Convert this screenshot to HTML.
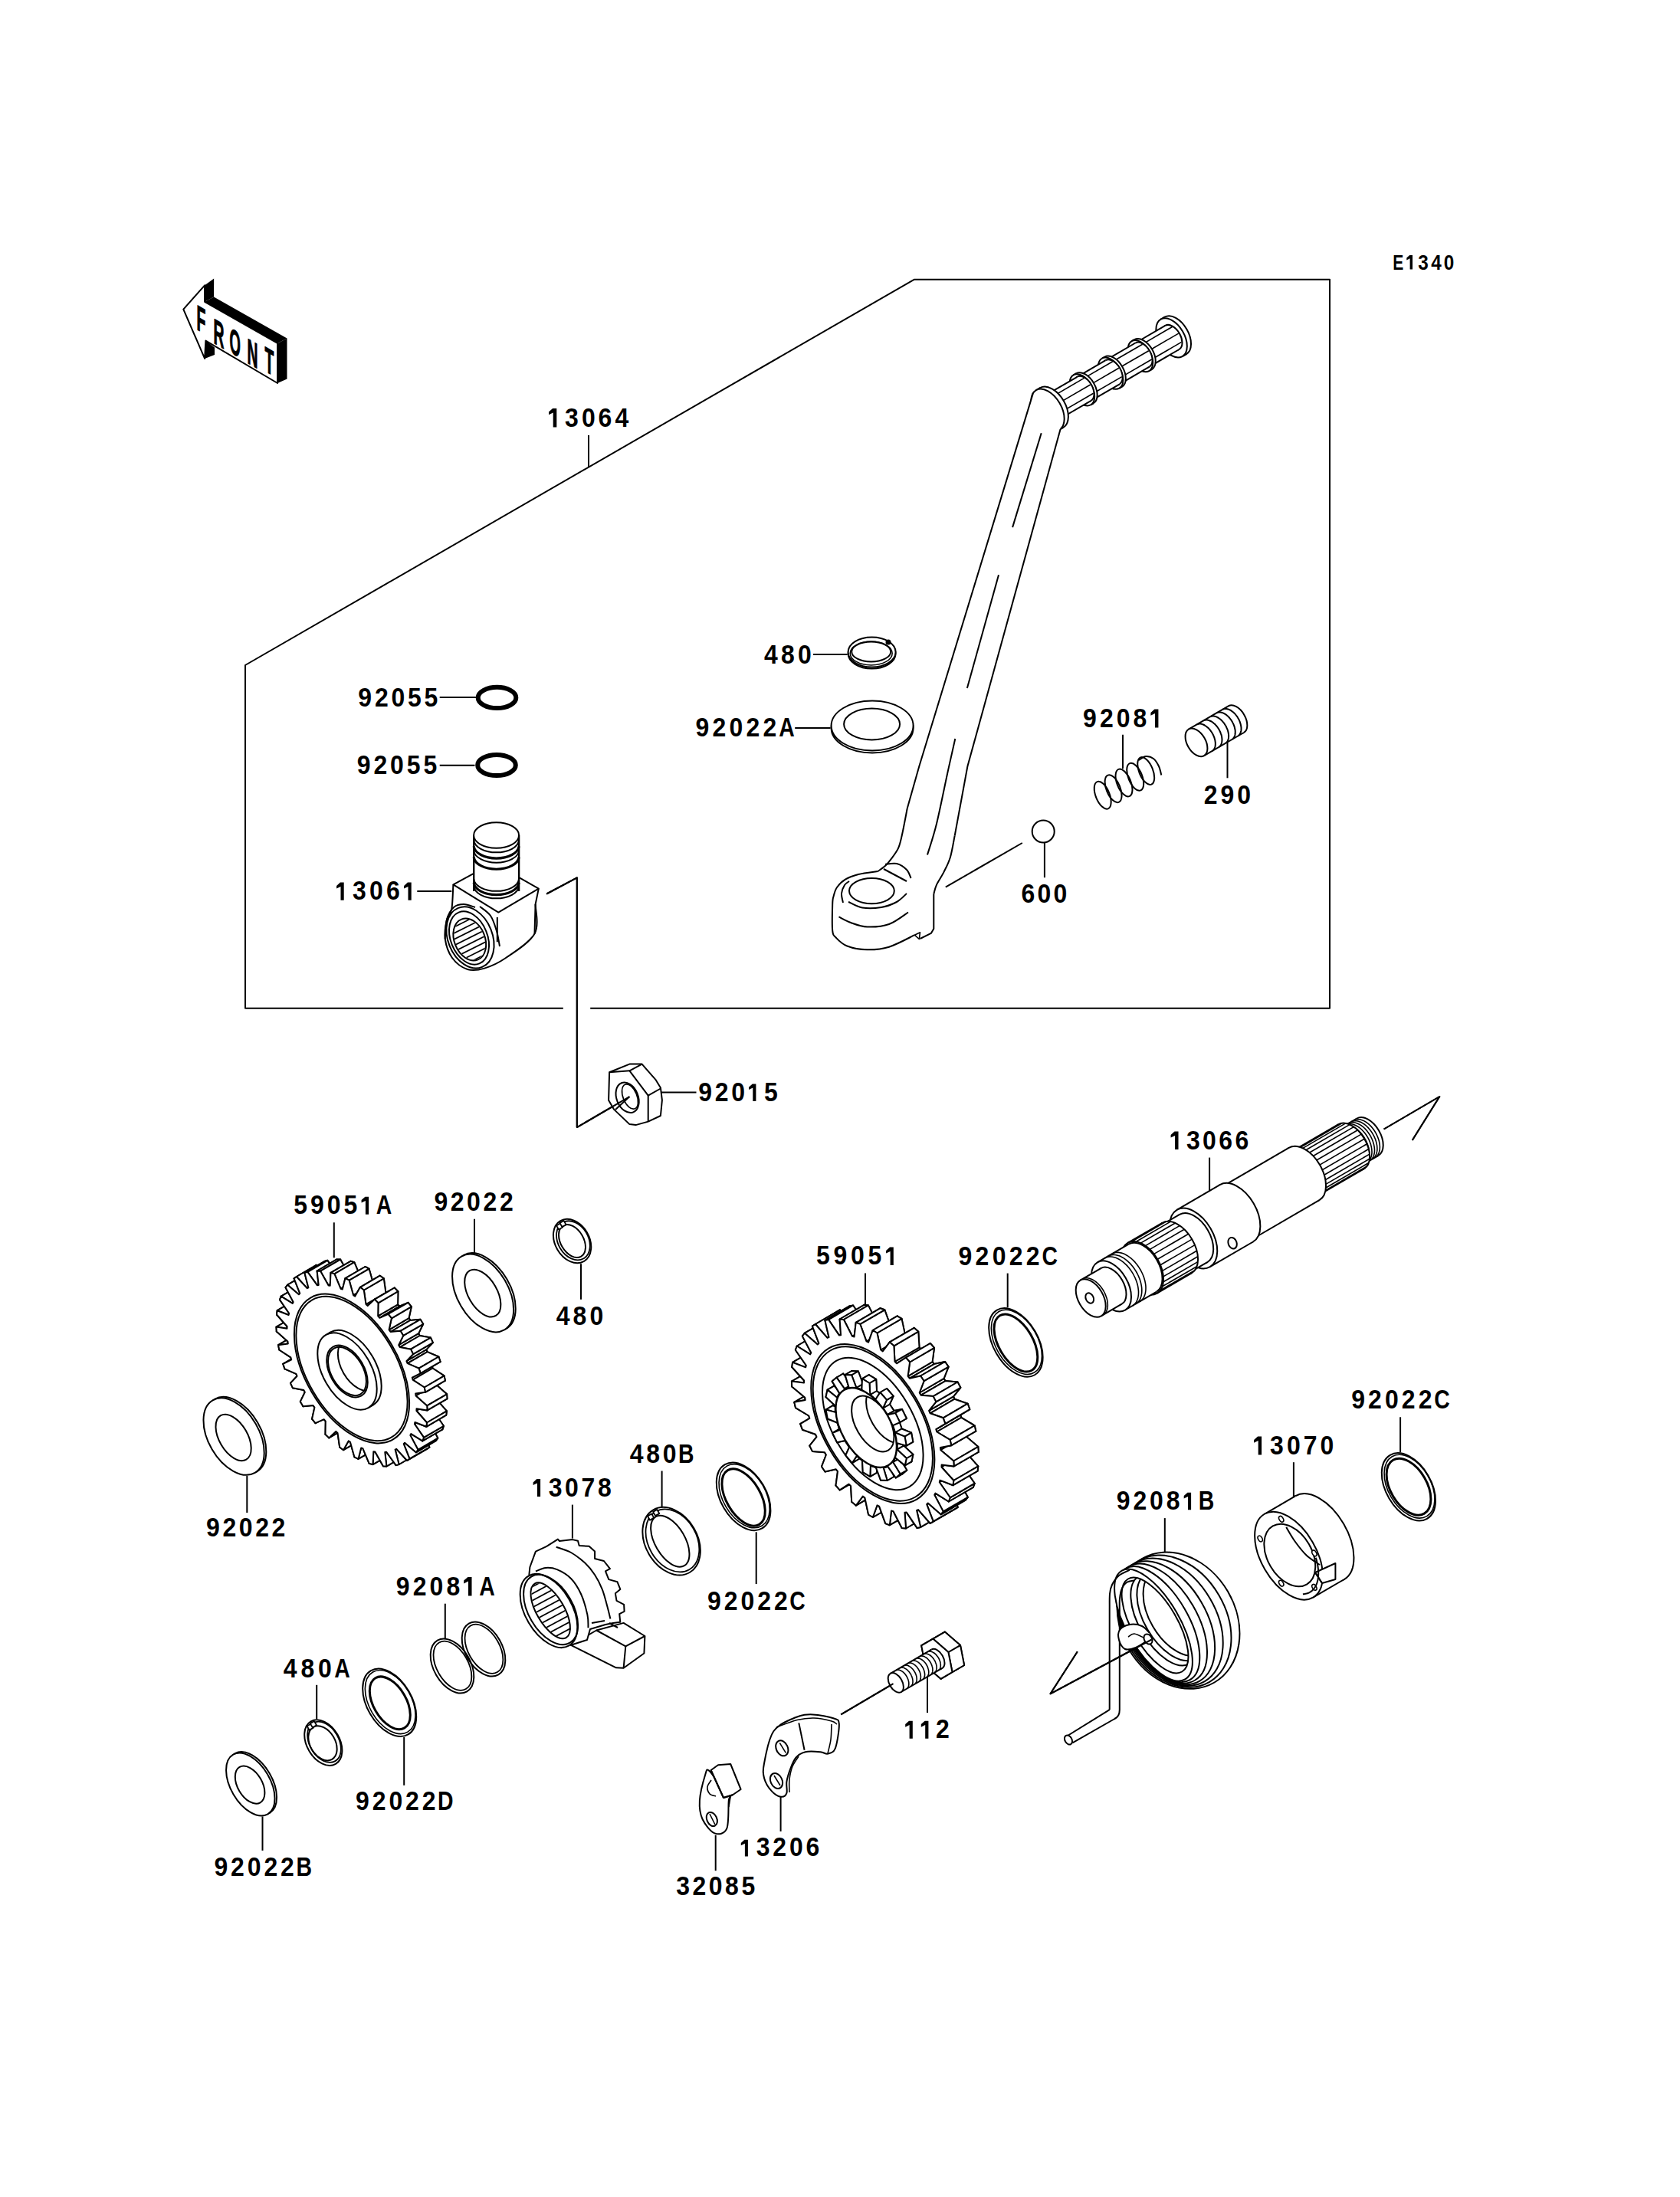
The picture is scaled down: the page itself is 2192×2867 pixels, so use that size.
<!DOCTYPE html>
<html><head><meta charset="utf-8"><style>html,body{margin:0;padding:0;background:#fff}svg{display:block}</style></head>
<body><svg width="2192" height="2867" viewBox="0 0 2192 2867">
<rect width="2192" height="2867" fill="#fff"/>
<g stroke="#000" fill="none" stroke-linecap="butt" stroke-linejoin="round">
<polyline points="770.2,1315.7 1735,1315.7 1735,364.8 1192.6,364.8 320,868 320,1315.7 734.8,1315.7" fill="none" stroke-width="2"/>
<polyline points="768,567.9 768,609.6" fill="none" stroke-width="2"/>
<polyline points="573.7,910 621,910" fill="none" stroke-width="2"/>
<polyline points="573.7,998.7 619.5,998.7" fill="none" stroke-width="2"/>
<polyline points="1061,853.9 1105.7,853.9" fill="none" stroke-width="2"/>
<polyline points="1037.2,950.1 1083.6,950.1" fill="none" stroke-width="2"/>
<polyline points="1465,958.8 1465,1002.9" fill="none" stroke-width="2"/>
<polyline points="1601.5,968.9 1601.5,1015.3" fill="none" stroke-width="2"/>
<polyline points="544.3,1162.9 589.3,1162.9" fill="none" stroke-width="2"/>
<polyline points="1362.9,1100 1362.9,1145.2" fill="none" stroke-width="2"/>
<polyline points="1233.8,1157.6 1333.8,1100" fill="none" stroke-width="2"/>
<polyline points="862.9,1425.6 908.5,1425.6" fill="none" stroke-width="2"/>
<polyline points="713.1,1166.5 752.8,1145.3 752.8,1471.1 821.4,1431.1" fill="none" stroke-width="2"/>
<polyline points="1578.1,1510.6 1578.1,1555.5" fill="none" stroke-width="2"/>
<polyline points="435.8,1595.3 435.8,1641.3" fill="none" stroke-width="2"/>
<polyline points="619,1590.8 619,1635.8" fill="none" stroke-width="2"/>
<polyline points="758,1649.3 758,1695.7" fill="none" stroke-width="2"/>
<polyline points="1129,1661.6 1129,1705" fill="none" stroke-width="2"/>
<polyline points="1314.7,1661.6 1314.7,1706.1" fill="none" stroke-width="2"/>
<polyline points="322.3,1925.7 322.3,1974" fill="none" stroke-width="2"/>
<polyline points="1827.1,1849.3 1827.1,1895.2" fill="none" stroke-width="2"/>
<polyline points="1687.9,1908.2 1687.9,1953.2" fill="none" stroke-width="2"/>
<polyline points="863.6,1919.5 863.6,1967.1" fill="none" stroke-width="2"/>
<polyline points="746.9,1963.6 746.9,2007.6" fill="none" stroke-width="2"/>
<polyline points="1519.8,1981.1 1519.8,2025.6" fill="none" stroke-width="2"/>
<polyline points="986.7,1999.3 986.7,2067.1" fill="none" stroke-width="2"/>
<polyline points="580.8,2092.7 580.8,2138.6" fill="none" stroke-width="2"/>
<polyline points="413.2,2198.8 413.2,2243.3" fill="none" stroke-width="2"/>
<polyline points="1210,2186.1 1210,2234.9" fill="none" stroke-width="2"/>
<polyline points="1165.5,2197.1 1097.2,2237.4" fill="none" stroke-width="2"/>
<polyline points="527.2,2266.9 527.2,2329.8" fill="none" stroke-width="2"/>
<polyline points="1018.6,2343.5 1018.6,2389.9" fill="none" stroke-width="2"/>
<polyline points="342.5,2370.4 342.5,2414.9" fill="none" stroke-width="2"/>
<polyline points="933.7,2394.8 933.7,2441.2" fill="none" stroke-width="2"/>
<polyline points="1805.6,1473.5 1878.3,1431 1842.7,1488" fill="none" stroke-width="2"/>
<polyline points="1502.7,2139.5 1370.5,2210.3 1405.8,2155.2" fill="none" stroke-width="2"/>
<ellipse cx="648.5" cy="910.4" rx="24.8" ry="13.6" fill="none" stroke-width="6"/>
<ellipse cx="648" cy="998.5" rx="24.8" ry="13.6" fill="none" stroke-width="6"/>
<ellipse cx="632.7" cy="1686" rx="33.2" ry="55.5" transform="rotate(-30.2 632.7 1686)" fill="#fff" stroke-width="2"/>
<ellipse cx="630.1" cy="1687.5" rx="33.2" ry="55.5" transform="rotate(-30.2 630.1 1687.5)" fill="#fff" stroke-width="2"/>
<ellipse cx="629.8" cy="1687.6" rx="18.8" ry="34" transform="rotate(-30.2 629.8 1687.6)" fill="#fff" stroke-width="2"/>
<ellipse cx="307.7" cy="1873.1" rx="33" ry="54.7" transform="rotate(-30.2 307.7 1873.1)" fill="#fff" stroke-width="2"/>
<ellipse cx="305.1" cy="1874.6" rx="33" ry="54.7" transform="rotate(-30.2 305.1 1874.6)" fill="#fff" stroke-width="2"/>
<ellipse cx="304.6" cy="1875.9" rx="18.5" ry="33.2" transform="rotate(-30.2 304.6 1875.9)" fill="#fff" stroke-width="2"/>
<ellipse cx="1325.4" cy="1751.9" rx="29.1" ry="49" transform="rotate(-30.2 1325.4 1751.9)" fill="#fff" stroke-width="2"/>
<ellipse cx="1326.4" cy="1751.3" rx="27.3" ry="46" transform="rotate(-30.2 1326.4 1751.3)" fill="none" stroke-width="1.6"/>
<ellipse cx="1325.4" cy="1752.5" rx="22.3" ry="41.4" transform="rotate(-30.2 1325.4 1752.5)" fill="none" stroke-width="3"/>
<ellipse cx="1837.9" cy="1940.3" rx="29.5" ry="48" transform="rotate(-30.2 1837.9 1940.3)" fill="#fff" stroke-width="2"/>
<ellipse cx="1839" cy="1939.7" rx="27.7" ry="45" transform="rotate(-30.2 1839 1939.7)" fill="none" stroke-width="1.6"/>
<ellipse cx="1838" cy="1940.2" rx="23.8" ry="40.4" transform="rotate(-30.2 1838 1940.2)" fill="none" stroke-width="3"/>
<ellipse cx="970.1" cy="1952.8" rx="29.7" ry="48.2" transform="rotate(-30.2 970.1 1952.8)" fill="#fff" stroke-width="2"/>
<ellipse cx="971.1" cy="1952.2" rx="27.8" ry="45.2" transform="rotate(-30.2 971.1 1952.2)" fill="none" stroke-width="1.6"/>
<ellipse cx="970.1" cy="1954" rx="22.3" ry="40.9" transform="rotate(-30.2 970.1 1954)" fill="none" stroke-width="3"/>
<ellipse cx="508.2" cy="2221.8" rx="29.2" ry="48.2" transform="rotate(-30.2 508.2 2221.8)" fill="#fff" stroke-width="2"/>
<ellipse cx="509.2" cy="2221.1" rx="27.4" ry="45.2" transform="rotate(-30.2 509.2 2221.1)" fill="none" stroke-width="1.6"/>
<ellipse cx="508.8" cy="2222.3" rx="21.4" ry="37.7" transform="rotate(-30.2 508.8 2222.3)" fill="none" stroke-width="3"/>
<ellipse cx="329.3" cy="2327" rx="25.8" ry="44.9" transform="rotate(-30.2 329.3 2327)" fill="#fff" stroke-width="2"/>
<ellipse cx="326.8" cy="2328.5" rx="25.8" ry="44.9" transform="rotate(-30.2 326.8 2328.5)" fill="#fff" stroke-width="2"/>
<ellipse cx="326.1" cy="2329.1" rx="16" ry="26.8" transform="rotate(-30.2 326.1 2329.1)" fill="#fff" stroke-width="2"/>
<ellipse cx="746.6" cy="1619.5" rx="22.3" ry="30.6" transform="rotate(-30.2 746.6 1619.5)" fill="#fff" stroke-width="2"/>
<ellipse cx="747.9" cy="1618.8" rx="19.8" ry="27.1" transform="rotate(-30.2 747.9 1618.8)" fill="none" stroke-width="1.8"/>
<ellipse cx="746.5" cy="1619.5" rx="15" ry="23.3" transform="rotate(-30.2 746.5 1619.5)" fill="none" stroke-width="2"/>
<rect x="727.1" y="1597.4" width="6" height="6" fill="#fff" stroke-width="1.8" transform="rotate(-30 730.1 1600.4)"/>
<rect x="731.5" y="1594" width="6" height="6" fill="#fff" stroke-width="1.8" transform="rotate(-30 734.5 1597)"/>
<ellipse cx="876.1" cy="2011.2" rx="33.9" ry="47.2" transform="rotate(-30.2 876.1 2011.2)" fill="#fff" stroke-width="2"/>
<ellipse cx="877.4" cy="2010.4" rx="31.4" ry="43.7" transform="rotate(-30.2 877.4 2010.4)" fill="none" stroke-width="1.8"/>
<ellipse cx="874.3" cy="2011.2" rx="19.6" ry="37" transform="rotate(-30.2 874.3 2011.2)" fill="none" stroke-width="2"/>
<rect x="846.1" y="1976.6" width="6" height="6" fill="#fff" stroke-width="1.8" transform="rotate(-30 849.1 1979.6)"/>
<rect x="853.2" y="1971" width="6" height="6" fill="#fff" stroke-width="1.8" transform="rotate(-30 856.2 1974)"/>
<ellipse cx="421.8" cy="2274.1" rx="21.4" ry="32.2" transform="rotate(-30.2 421.8 2274.1)" fill="#fff" stroke-width="2"/>
<ellipse cx="423" cy="2273.3" rx="19" ry="28.7" transform="rotate(-30.2 423 2273.3)" fill="none" stroke-width="1.8"/>
<ellipse cx="421" cy="2274.8" rx="16.3" ry="24.3" transform="rotate(-30.2 421 2274.8)" fill="none" stroke-width="2"/>
<rect x="401.7" y="2250.6" width="6" height="6" fill="#fff" stroke-width="1.8" transform="rotate(-30 404.7 2253.6)"/>
<rect x="405.9" y="2247.2" width="6" height="6" fill="#fff" stroke-width="1.8" transform="rotate(-30 408.9 2250.2)"/>
<polygon points="543.2,1875.7 557,1890.9 560.4,1888.5 552.7,1869.1 554,1867.7 568.7,1880.2 571.3,1876.7 561.2,1857.8 562.2,1856 577.3,1865.3 578.9,1860.8 566.8,1843.2 567.4,1841 582.2,1846.7 582.9,1841.4 569.3,1825.9 569.4,1823.2 583.4,1825.3 583.1,1819.3 568.5,1806.4 568.2,1803.5 580.9,1801.7 579.6,1795.4 564.5,1785.5 563.7,1782.6 574.6,1777 572.4,1770.5 557.5,1764.1 556.3,1761.1 564.9,1752.1 561.9,1745.6 547.7,1743 546.1,1740.1 552.2,1727.8 548.4,1721.8 535.4,1722.9 533.5,1720.2 536.8,1705.2 532.5,1699.8 521.2,1704.7 519.1,1702.3 519.4,1685.2 514.7,1680.5 505.7,1689 503.4,1687 500.8,1668.4 495.8,1664.7 489.3,1676.5 487,1675 481.5,1655.6 476.5,1653 472.7,1667.6 470.4,1666.6 462.3,1647.2 457.5,1645.8 456.7,1662.6 454.5,1662.3 444.1,1643.6 439.5,1643.4 441.7,1661.8 439.7,1662.1 427.3,1644.8 423.3,1646 428.3,1665.3 426.6,1666.1 412.8,1650.9 409.5,1653.3 417.2,1672.7 415.8,1674.1 401.1,1661.6 398.6,1665.1 408.6,1684 407.7,1685.8 392.6,1676.6 391,1681 403,1698.6 402.5,1700.9 387.6,1695.1 387,1700.4 400.6,1716 400.5,1718.6 386.4,1716.5 386.7,1722.5 401.3,1735.4 401.7,1738.3 389,1740.1 390.3,1746.4 405.3,1756.3 406.1,1759.3 395.2,1764.8 397.4,1771.3 412.4,1777.7 413.6,1780.7 404.9,1789.8 408,1796.2 422.2,1798.8 423.8,1801.7 417.7,1814 421.5,1820.1 434.4,1818.9 436.3,1821.6 433.1,1836.6 437.4,1842.1 448.6,1837.1 450.7,1839.5 450.4,1856.6 455.2,1861.3 464.2,1852.8 466.5,1854.8 469.1,1873.4 474.1,1877.1 480.6,1865.4 482.9,1866.8 488.4,1886.2 493.4,1888.8 497.1,1874.3 499.4,1875.2 507.5,1894.6 512.4,1896 513.2,1879.2 515.4,1879.6 525.8,1898.2 530.3,1898.4 528.2,1880 530.2,1879.7 542.5,1897 546.5,1895.9 541.5,1876.6" fill="#fff" stroke-width="2"/>
<polygon points="391.8,1829.1 395.5,1835.2 421.5,1820.1 417.7,1814" fill="#fff" stroke-width="2"/>
<polygon points="379,1804.9 382,1811.3 408,1796.2 404.9,1789.8" fill="#fff" stroke-width="2"/>
<polygon points="407.1,1851.7 411.5,1857.2 437.4,1842.1 433.1,1836.6" fill="#fff" stroke-width="2"/>
<polygon points="369.3,1779.9 371.5,1786.4 397.4,1771.3 395.2,1764.8" fill="#fff" stroke-width="2"/>
<polygon points="397.8,1816.8 391.8,1829.1 417.7,1814 423.8,1801.7" fill="#fff" stroke-width="2"/>
<polygon points="382,1811.3 396.3,1813.9 422.2,1798.8 408,1796.2" fill="#fff" stroke-width="2"/>
<polygon points="395.5,1835.2 408.5,1834 434.4,1818.9 421.5,1820.1" fill="#fff" stroke-width="2"/>
<polygon points="410.4,1836.7 407.1,1851.7 433.1,1836.6 436.3,1821.6" fill="#fff" stroke-width="2"/>
<polygon points="387.6,1795.8 379,1804.9 404.9,1789.8 413.6,1780.7" fill="#fff" stroke-width="2"/>
<polygon points="424.5,1871.7 429.2,1876.4 455.2,1861.3 450.4,1856.6" fill="#fff" stroke-width="2"/>
<polygon points="371.5,1786.4 386.4,1792.8 412.4,1777.7 397.4,1771.3" fill="#fff" stroke-width="2"/>
<polygon points="411.5,1857.2 422.7,1852.2 448.6,1837.1 437.4,1842.1" fill="#fff" stroke-width="2"/>
<polygon points="424.8,1854.6 424.5,1871.7 450.4,1856.6 450.7,1839.5" fill="#fff" stroke-width="2"/>
<polygon points="363.1,1755.2 364.3,1761.5 390.3,1746.4 389,1740.1" fill="#fff" stroke-width="2"/>
<polygon points="380.2,1774.4 369.3,1779.9 395.2,1764.8 406.1,1759.3" fill="#fff" stroke-width="2"/>
<polygon points="396.3,1813.9 397.8,1816.8 423.8,1801.7 422.2,1798.8" fill="#fff" stroke-width="2"/>
<polygon points="408.5,1834 410.4,1836.7 436.3,1821.6 434.4,1818.9" fill="#fff" stroke-width="2"/>
<polygon points="386.4,1792.8 387.6,1795.8 413.6,1780.7 412.4,1777.7" fill="#fff" stroke-width="2"/>
<polygon points="364.3,1761.5 379.4,1771.4 405.3,1756.3 390.3,1746.4" fill="#fff" stroke-width="2"/>
<polygon points="429.2,1876.4 438.3,1867.9 464.2,1852.8 455.2,1861.3" fill="#fff" stroke-width="2"/>
<polygon points="422.7,1852.2 424.8,1854.6 450.7,1839.5 448.6,1837.1" fill="#fff" stroke-width="2"/>
<polygon points="443.2,1888.5 448.1,1892.2 474.1,1877.1 469.1,1873.4" fill="#fff" stroke-width="2"/>
<polygon points="379.4,1771.4 380.2,1774.4 406.1,1759.3 405.3,1756.3" fill="#fff" stroke-width="2"/>
<polygon points="440.5,1869.9 443.2,1888.5 469.1,1873.4 466.5,1854.8" fill="#fff" stroke-width="2"/>
<polygon points="375.8,1753.4 363.1,1755.2 389,1740.1 401.7,1738.3" fill="#fff" stroke-width="2"/>
<polygon points="360.5,1731.6 360.8,1737.6 386.7,1722.5 386.4,1716.5" fill="#fff" stroke-width="2"/>
<polygon points="438.3,1867.9 440.5,1869.9 466.5,1854.8 464.2,1852.8" fill="#fff" stroke-width="2"/>
<polygon points="360.8,1737.6 375.4,1750.5 401.3,1735.4 386.7,1722.5" fill="#fff" stroke-width="2"/>
<polygon points="448.1,1892.2 454.7,1880.4 480.6,1865.4 474.1,1877.1" fill="#fff" stroke-width="2"/>
<polygon points="375.4,1750.5 375.8,1753.4 401.7,1738.3 401.3,1735.4" fill="#fff" stroke-width="2"/>
<polygon points="462.4,1901.3 467.5,1903.9 493.4,1888.8 488.4,1886.2" fill="#fff" stroke-width="2"/>
<polygon points="457,1881.9 462.4,1901.3 488.4,1886.2 482.9,1866.8" fill="#fff" stroke-width="2"/>
<polygon points="374.5,1733.7 360.5,1731.6 386.4,1716.5 400.5,1718.6" fill="#fff" stroke-width="2"/>
<polygon points="454.7,1880.4 457,1881.9 482.9,1866.8 480.6,1865.4" fill="#fff" stroke-width="2"/>
<polygon points="361.7,1710.2 361,1715.5 387,1700.4 387.6,1695.1" fill="#fff" stroke-width="2"/>
<polygon points="361,1715.5 374.6,1731 400.6,1716 387,1700.4" fill="#fff" stroke-width="2"/>
<polygon points="467.5,1903.9 471.2,1889.4 497.1,1874.3 493.4,1888.8" fill="#fff" stroke-width="2"/>
<polygon points="374.6,1731 374.5,1733.7 400.5,1718.6 400.6,1716" fill="#fff" stroke-width="2"/>
<polygon points="473.5,1890.3 481.6,1909.7 507.5,1894.6 499.4,1875.2" fill="#fff" stroke-width="2"/>
<polygon points="376.6,1716 361.7,1710.2 387.6,1695.1 402.5,1700.9" fill="#fff" stroke-width="2"/>
<polygon points="481.6,1909.7 486.5,1911.1 512.4,1896 507.5,1894.6" fill="#fff" stroke-width="2"/>
<polygon points="471.2,1889.4 473.5,1890.3 499.4,1875.2 497.1,1874.3" fill="#fff" stroke-width="2"/>
<polygon points="377.1,1713.7 376.6,1716 402.5,1700.9 403,1698.6" fill="#fff" stroke-width="2"/>
<polygon points="365,1696.1 377.1,1713.7 403,1698.6 391,1681" fill="#fff" stroke-width="2"/>
<polygon points="486.5,1911.1 487.3,1894.3 513.2,1879.2 512.4,1896" fill="#fff" stroke-width="2"/>
<polygon points="366.7,1691.6 365,1696.1 391,1681 392.6,1676.6" fill="#fff" stroke-width="2"/>
<polygon points="487.3,1894.3 489.4,1894.6 515.4,1879.6 513.2,1879.2" fill="#fff" stroke-width="2"/>
<polygon points="489.4,1894.6 499.9,1913.3 525.8,1898.2 515.4,1879.6" fill="#fff" stroke-width="2"/>
<polygon points="381.7,1700.9 366.7,1691.6 392.6,1676.6 407.7,1685.8" fill="#fff" stroke-width="2"/>
<polygon points="499.9,1913.3 504.4,1913.5 530.3,1898.4 525.8,1898.2" fill="#fff" stroke-width="2"/>
<polygon points="382.7,1699.1 381.7,1700.9 407.7,1685.8 408.6,1684" fill="#fff" stroke-width="2"/>
<polygon points="372.6,1680.2 382.7,1699.1 408.6,1684 398.6,1665.1" fill="#fff" stroke-width="2"/>
<polygon points="504.4,1913.5 502.3,1895.1 528.2,1880 530.3,1898.4" fill="#fff" stroke-width="2"/>
<polygon points="375.2,1676.7 372.6,1680.2 398.6,1665.1 401.1,1661.6" fill="#fff" stroke-width="2"/>
<polygon points="502.3,1895.1 504.2,1894.8 530.2,1879.7 528.2,1880" fill="#fff" stroke-width="2"/>
<polygon points="504.2,1894.8 516.6,1912.1 542.5,1897 530.2,1879.7" fill="#fff" stroke-width="2"/>
<polygon points="389.9,1689.2 375.2,1676.7 401.1,1661.6 415.8,1674.1" fill="#fff" stroke-width="2"/>
<polygon points="516.6,1912.1 520.6,1911 546.5,1895.9 542.5,1897" fill="#fff" stroke-width="2"/>
<polygon points="391.3,1687.8 389.9,1689.2 415.8,1674.1 417.2,1672.7" fill="#fff" stroke-width="2"/>
<polygon points="383.6,1668.4 391.3,1687.8 417.2,1672.7 409.5,1653.3" fill="#fff" stroke-width="2"/>
<polygon points="520.6,1911 515.6,1891.6 541.5,1876.6 546.5,1895.9" fill="#fff" stroke-width="2"/>
<polygon points="386.9,1666 383.6,1668.4 409.5,1653.3 412.8,1650.9" fill="#fff" stroke-width="2"/>
<polygon points="515.6,1891.6 517.3,1890.8 543.2,1875.7 541.5,1876.6" fill="#fff" stroke-width="2"/>
<polygon points="517.3,1890.8 531.1,1906 557,1890.9 543.2,1875.7" fill="#fff" stroke-width="2"/>
<polygon points="400.7,1681.2 386.9,1666 412.8,1650.9 426.6,1666.1" fill="#fff" stroke-width="2"/>
<polygon points="402.4,1680.4 400.7,1681.2 426.6,1666.1 428.3,1665.3" fill="#fff" stroke-width="2"/>
<polygon points="531.1,1906 534.4,1903.6 560.4,1888.5 557,1890.9" fill="#fff" stroke-width="2"/>
<polygon points="397.4,1661 402.4,1680.4 428.3,1665.3 423.3,1646" fill="#fff" stroke-width="2"/>
<polygon points="534.4,1903.6 526.7,1884.2 552.7,1869.1 560.4,1888.5" fill="#fff" stroke-width="2"/>
<polygon points="526.7,1884.2 528.1,1882.8 554,1867.7 552.7,1869.1" fill="#fff" stroke-width="2"/>
<polygon points="401.4,1659.9 397.4,1661 423.3,1646 427.3,1644.8" fill="#fff" stroke-width="2"/>
<polygon points="528.1,1882.8 542.8,1895.3 568.7,1880.2 554,1867.7" fill="#fff" stroke-width="2"/>
<polygon points="413.8,1677.2 401.4,1659.9 427.3,1644.8 439.7,1662.1" fill="#fff" stroke-width="2"/>
<polygon points="415.7,1676.9 413.8,1677.2 439.7,1662.1 441.7,1661.8" fill="#fff" stroke-width="2"/>
<polygon points="542.8,1895.3 545.4,1891.8 571.3,1876.7 568.7,1880.2" fill="#fff" stroke-width="2"/>
<polygon points="413.6,1658.5 415.7,1676.9 441.7,1661.8 439.5,1643.4" fill="#fff" stroke-width="2"/>
<polygon points="545.4,1891.8 535.3,1872.9 561.2,1857.8 571.3,1876.7" fill="#fff" stroke-width="2"/>
<polygon points="535.3,1872.9 536.3,1871.1 562.2,1856 561.2,1857.8" fill="#fff" stroke-width="2"/>
<polygon points="418.1,1658.7 413.6,1658.5 439.5,1643.4 444.1,1643.6" fill="#fff" stroke-width="2"/>
<polygon points="536.3,1871.1 551.3,1880.4 577.3,1865.3 562.2,1856" fill="#fff" stroke-width="2"/>
<polygon points="428.6,1677.4 418.1,1658.7 444.1,1643.6 454.5,1662.3" fill="#fff" stroke-width="2"/>
<polygon points="430.7,1677.7 428.6,1677.4 454.5,1662.3 456.7,1662.6" fill="#fff" stroke-width="2"/>
<polygon points="551.3,1880.4 553,1875.9 578.9,1860.8 577.3,1865.3" fill="#fff" stroke-width="2"/>
<polygon points="431.5,1660.9 430.7,1677.7 456.7,1662.6 457.5,1645.8" fill="#fff" stroke-width="2"/>
<polygon points="553,1875.9 540.9,1858.3 566.8,1843.2 578.9,1860.8" fill="#fff" stroke-width="2"/>
<polygon points="540.9,1858.3 541.4,1856 567.4,1841 566.8,1843.2" fill="#fff" stroke-width="2"/>
<polygon points="446.8,1682.6 444.5,1681.7 470.4,1666.6 472.7,1667.6" fill="#fff" stroke-width="2"/>
<polygon points="436.4,1662.3 431.5,1660.9 457.5,1645.8 462.3,1647.2" fill="#fff" stroke-width="2"/>
<polygon points="541.4,1856 556.3,1861.8 582.2,1846.7 567.4,1841" fill="#fff" stroke-width="2"/>
<polygon points="444.5,1681.7 436.4,1662.3 462.3,1647.2 470.4,1666.6" fill="#fff" stroke-width="2"/>
<polygon points="543.4,1841 543.5,1838.3 569.4,1823.2 569.3,1825.9" fill="#fff" stroke-width="2"/>
<polygon points="450.5,1668.1 446.8,1682.6 472.7,1667.6 476.5,1653" fill="#fff" stroke-width="2"/>
<polygon points="557,1856.5 543.4,1841 569.3,1825.9 582.9,1841.4" fill="#fff" stroke-width="2"/>
<polygon points="556.3,1861.8 557,1856.5 582.9,1841.4 582.2,1846.7" fill="#fff" stroke-width="2"/>
<polygon points="463.3,1691.6 461,1690.1 487,1675 489.3,1676.5" fill="#fff" stroke-width="2"/>
<polygon points="543.5,1838.3 557.5,1840.4 583.4,1825.3 569.4,1823.2" fill="#fff" stroke-width="2"/>
<polygon points="461,1690.1 455.6,1670.7 481.5,1655.6 487,1675" fill="#fff" stroke-width="2"/>
<polygon points="455.6,1670.7 450.5,1668.1 476.5,1653 481.5,1655.6" fill="#fff" stroke-width="2"/>
<polygon points="542.6,1821.5 542.2,1818.6 568.2,1803.5 568.5,1806.4" fill="#fff" stroke-width="2"/>
<polygon points="469.9,1679.8 463.3,1691.6 489.3,1676.5 495.8,1664.7" fill="#fff" stroke-width="2"/>
<polygon points="557.2,1834.4 542.6,1821.5 568.5,1806.4 583.1,1819.3" fill="#fff" stroke-width="2"/>
<polygon points="479.7,1704.1 477.5,1702.1 503.4,1687 505.7,1689" fill="#fff" stroke-width="2"/>
<polygon points="557.5,1840.4 557.2,1834.4 583.1,1819.3 583.4,1825.3" fill="#fff" stroke-width="2"/>
<polygon points="542.2,1818.6 554.9,1816.8 580.9,1801.7 568.2,1803.5" fill="#fff" stroke-width="2"/>
<polygon points="477.5,1702.1 474.8,1683.5 500.8,1668.4 503.4,1687" fill="#fff" stroke-width="2"/>
<polygon points="538.6,1800.6 537.8,1797.6 563.7,1782.6 564.5,1785.5" fill="#fff" stroke-width="2"/>
<polygon points="474.8,1683.5 469.9,1679.8 495.8,1664.7 500.8,1668.4" fill="#fff" stroke-width="2"/>
<polygon points="495.3,1719.8 493.2,1717.4 519.1,1702.3 521.2,1704.7" fill="#fff" stroke-width="2"/>
<polygon points="488.8,1695.6 479.7,1704.1 505.7,1689 514.7,1680.5" fill="#fff" stroke-width="2"/>
<polygon points="553.7,1810.5 538.6,1800.6 564.5,1785.5 579.6,1795.4" fill="#fff" stroke-width="2"/>
<polygon points="531.6,1779.2 530.4,1776.2 556.3,1761.1 557.5,1764.1" fill="#fff" stroke-width="2"/>
<polygon points="509.5,1738 507.6,1735.3 533.5,1720.2 535.4,1722.9" fill="#fff" stroke-width="2"/>
<polygon points="521.7,1758.1 520.2,1755.2 546.1,1740.1 547.7,1743" fill="#fff" stroke-width="2"/>
<polygon points="537.8,1797.6 548.7,1792.1 574.6,1777 563.7,1782.6" fill="#fff" stroke-width="2"/>
<polygon points="554.9,1816.8 553.7,1810.5 579.6,1795.4 580.9,1801.7" fill="#fff" stroke-width="2"/>
<polygon points="493.2,1717.4 493.5,1700.3 519.4,1685.2 519.1,1702.3" fill="#fff" stroke-width="2"/>
<polygon points="506.5,1714.8 495.3,1719.8 521.2,1704.7 532.5,1699.8" fill="#fff" stroke-width="2"/>
<polygon points="546.5,1785.6 531.6,1779.2 557.5,1764.1 572.4,1770.5" fill="#fff" stroke-width="2"/>
<polygon points="493.5,1700.3 488.8,1695.6 514.7,1680.5 519.4,1685.2" fill="#fff" stroke-width="2"/>
<polygon points="530.4,1776.2 539,1767.1 564.9,1752.1 556.3,1761.1" fill="#fff" stroke-width="2"/>
<polygon points="507.6,1735.3 510.9,1720.3 536.8,1705.2 533.5,1720.2" fill="#fff" stroke-width="2"/>
<polygon points="522.5,1736.8 509.5,1738 535.4,1722.9 548.4,1721.8" fill="#fff" stroke-width="2"/>
<polygon points="536,1760.7 521.7,1758.1 547.7,1743 561.9,1745.6" fill="#fff" stroke-width="2"/>
<polygon points="520.2,1755.2 526.2,1742.9 552.2,1727.8 546.1,1740.1" fill="#fff" stroke-width="2"/>
<polygon points="548.7,1792.1 546.5,1785.6 572.4,1770.5 574.6,1777" fill="#fff" stroke-width="2"/>
<polygon points="510.9,1720.3 506.5,1714.8 532.5,1699.8 536.8,1705.2" fill="#fff" stroke-width="2"/>
<polygon points="539,1767.1 536,1760.7 561.9,1745.6 564.9,1752.1" fill="#fff" stroke-width="2"/>
<polygon points="526.2,1742.9 522.5,1736.8 548.4,1721.8 552.2,1727.8" fill="#fff" stroke-width="2"/>
<polygon points="517.3,1890.8 531.1,1906 534.4,1903.6 526.7,1884.2 528.1,1882.8 542.8,1895.3 545.4,1891.8 535.3,1872.9 536.3,1871.1 551.3,1880.4 553,1875.9 540.9,1858.3 541.4,1856 556.3,1861.8 557,1856.5 543.4,1841 543.5,1838.3 557.5,1840.4 557.2,1834.4 542.6,1821.5 542.2,1818.6 554.9,1816.8 553.7,1810.5 538.6,1800.6 537.8,1797.6 548.7,1792.1 546.5,1785.6 531.6,1779.2 530.4,1776.2 539,1767.1 536,1760.7 521.7,1758.1 520.2,1755.2 526.2,1742.9 522.5,1736.8 509.5,1738 507.6,1735.3 510.9,1720.3 506.5,1714.8 495.3,1719.8 493.2,1717.4 493.5,1700.3 488.8,1695.6 479.7,1704.1 477.5,1702.1 474.8,1683.5 469.9,1679.8 463.3,1691.6 461,1690.1 455.6,1670.7 450.5,1668.1 446.8,1682.6 444.5,1681.7 436.4,1662.3 431.5,1660.9 430.7,1677.7 428.6,1677.4 418.1,1658.7 413.6,1658.5 415.7,1676.9 413.8,1677.2 401.4,1659.9 397.4,1661 402.4,1680.4 400.7,1681.2 386.9,1666 383.6,1668.4 391.3,1687.8 389.9,1689.2 375.2,1676.7 372.6,1680.2 382.7,1699.1 381.7,1700.9 366.7,1691.6 365,1696.1 377.1,1713.7 376.6,1716 361.7,1710.2 361,1715.5 374.6,1731 374.5,1733.7 360.5,1731.6 360.8,1737.6 375.4,1750.5 375.8,1753.4 363.1,1755.2 364.3,1761.5 379.4,1771.4 380.2,1774.4 369.3,1779.9 371.5,1786.4 386.4,1792.8 387.6,1795.8 379,1804.9 382,1811.3 396.3,1813.9 397.8,1816.8 391.8,1829.1 395.5,1835.2 408.5,1834 410.4,1836.7 407.1,1851.7 411.5,1857.2 422.7,1852.2 424.8,1854.6 424.5,1871.7 429.2,1876.4 438.3,1867.9 440.5,1869.9 443.2,1888.5 448.1,1892.2 454.7,1880.4 457,1881.9 462.4,1901.3 467.5,1903.9 471.2,1889.4 473.5,1890.3 481.6,1909.7 486.5,1911.1 487.3,1894.3 489.4,1894.6 499.9,1913.3 504.4,1913.5 502.3,1895.1 504.2,1894.8 516.6,1912.1 520.6,1911 515.6,1891.6" fill="#fff" stroke-width="2"/>
<ellipse cx="459" cy="1786" rx="60.6" ry="107" transform="rotate(-30.2 459 1786)" fill="none" stroke-width="2"/>
<ellipse cx="459" cy="1786" rx="58.6" ry="103.5" transform="rotate(-30.2 459 1786)" fill="none" stroke-width="2"/>
<ellipse cx="459" cy="1786" rx="31.3" ry="55" transform="rotate(-30.2 459 1786)" fill="#fff" stroke-width="2"/>
<polygon points="480.6,1837.1 486.7,1833.5 431.3,1738.5 425.3,1742" fill="#fff" stroke="none"/>
<line x1="480.6" y1="1837.1" x2="486.7" y2="1833.5" stroke-width="2"/>
<line x1="425.3" y1="1742" x2="431.3" y2="1738.5" stroke-width="2"/>
<ellipse cx="453" cy="1789.5" rx="31.3" ry="55" transform="rotate(-30.2 453 1789.5)" fill="#fff" stroke-width="2"/>
<ellipse cx="453" cy="1789.5" rx="22.2" ry="37" transform="rotate(-30.2 453 1789.5)" fill="#fff" stroke-width="2"/>
<clipPath id="c1"><ellipse cx="453" cy="1789.5" rx="22.2" ry="37" transform="rotate(-30.2 453 1789.5)"/></clipPath>
<g clip-path="url(#c1)">
<ellipse cx="467.6" cy="1781" rx="22.2" ry="37" transform="rotate(-30.2 467.6 1781)" fill="none" stroke-width="2"/>
</g>
<ellipse cx="453" cy="1789.5" rx="20.7" ry="34.5" transform="rotate(-30.2 453 1789.5)" fill="none" stroke-width="2"/>
<polygon points="1230.1,1951.5 1245.7,1969.3 1249.7,1966.8 1241.2,1944.5 1242.8,1943 1259.7,1957.7 1262.7,1953.8 1251.3,1932.1 1252.4,1930 1269.8,1940.8 1271.7,1935.7 1257.8,1915.6 1258.4,1913 1275.5,1919.6 1276.3,1913.4 1260.5,1895.8 1260.6,1892.9 1276.7,1894.8 1276.3,1887.9 1259.3,1873.6 1258.8,1870.3 1273.3,1867.6 1271.6,1860.3 1254.2,1849.9 1253.2,1846.5 1265.3,1839.2 1262.6,1831.7 1245.5,1825.7 1244,1822.3 1253.3,1810.8 1249.5,1803.5 1233.5,1802.1 1231.6,1798.9 1237.6,1783.6 1233,1776.9 1218.8,1780.1 1216.6,1777.2 1219,1758.9 1213.8,1753 1202,1760.7 1199.5,1758.3 1198.3,1737.7 1192.7,1732.8 1183.8,1744.8 1181.2,1742.9 1176.5,1720.9 1170.7,1717.4 1165.1,1733 1162.4,1731.7 1154.3,1709.3 1148.6,1707.2 1146.5,1725.8 1144,1725.2 1132.9,1703.4 1127.5,1702.8 1129.1,1723.7 1126.8,1723.8 1113.1,1703.5 1108.4,1704.4 1113.5,1726.5 1111.5,1727.3 1095.9,1709.4 1091.9,1711.9 1100.3,1734.3 1098.7,1735.8 1081.9,1721.1 1078.9,1725 1090.3,1746.7 1089.2,1748.8 1071.8,1737.9 1069.9,1743.1 1083.8,1763.2 1083.2,1765.7 1066,1759.2 1065.3,1765.4 1081.1,1782.9 1081,1785.9 1064.9,1784 1065.3,1790.9 1082.2,1805.2 1082.7,1808.4 1068.3,1811.2 1069.9,1818.5 1087.3,1828.9 1088.3,1832.3 1076.2,1839.6 1079,1847 1096,1853.1 1097.5,1856.5 1088.3,1868 1092,1875.3 1108,1876.7 1109.9,1879.9 1103.9,1895.2 1108.5,1901.9 1122.7,1898.7 1125,1901.6 1122.5,1919.9 1127.7,1925.8 1139.6,1918 1142,1920.5 1143.2,1941.1 1148.8,1945.9 1157.7,1934 1160.4,1935.9 1165.1,1957.9 1170.9,1961.4 1176.5,1945.8 1179.1,1947.1 1187.2,1969.5 1192.9,1971.6 1195,1952.9 1197.5,1953.5 1208.7,1975.4 1214,1975.9 1212.5,1955.1 1214.8,1955 1228.4,1975.3 1233.2,1974.3 1228.1,1952.3" fill="#fff" stroke-width="2"/>
<polygon points="1056.3,1886.6 1060,1893.9 1092,1875.3 1088.3,1868" fill="#fff" stroke-width="2"/>
<polygon points="1072,1913.8 1076.5,1920.5 1108.5,1901.9 1103.9,1895.2" fill="#fff" stroke-width="2"/>
<polygon points="1044.2,1858.2 1047,1865.7 1079,1847 1076.2,1839.6" fill="#fff" stroke-width="2"/>
<polygon points="1090.5,1938.5 1095.7,1944.4 1127.7,1925.8 1122.5,1919.9" fill="#fff" stroke-width="2"/>
<polygon points="1060,1893.9 1076,1895.3 1108,1876.7 1092,1875.3" fill="#fff" stroke-width="2"/>
<polygon points="1077.9,1898.5 1072,1913.8 1103.9,1895.2 1109.9,1879.9" fill="#fff" stroke-width="2"/>
<polygon points="1065.5,1875.1 1056.3,1886.6 1088.3,1868 1097.5,1856.5" fill="#fff" stroke-width="2"/>
<polygon points="1076.5,1920.5 1090.8,1917.3 1122.7,1898.7 1108.5,1901.9" fill="#fff" stroke-width="2"/>
<polygon points="1047,1865.7 1064,1871.7 1096,1853.1 1079,1847" fill="#fff" stroke-width="2"/>
<polygon points="1093,1920.2 1090.5,1938.5 1122.5,1919.9 1125,1901.6" fill="#fff" stroke-width="2"/>
<polygon points="1036.3,1829.8 1038,1837.1 1069.9,1818.5 1068.3,1811.2" fill="#fff" stroke-width="2"/>
<polygon points="1056.3,1850.9 1044.2,1858.2 1076.2,1839.6 1088.3,1832.3" fill="#fff" stroke-width="2"/>
<polygon points="1111.2,1959.7 1116.8,1964.6 1148.8,1945.9 1143.2,1941.1" fill="#fff" stroke-width="2"/>
<polygon points="1095.7,1944.4 1107.6,1936.7 1139.6,1918 1127.7,1925.8" fill="#fff" stroke-width="2"/>
<polygon points="1076,1895.3 1077.9,1898.5 1109.9,1879.9 1108,1876.7" fill="#fff" stroke-width="2"/>
<polygon points="1038,1837.1 1055.3,1847.5 1087.3,1828.9 1069.9,1818.5" fill="#fff" stroke-width="2"/>
<polygon points="1064,1871.7 1065.5,1875.1 1097.5,1856.5 1096,1853.1" fill="#fff" stroke-width="2"/>
<polygon points="1090.8,1917.3 1093,1920.2 1125,1901.6 1122.7,1898.7" fill="#fff" stroke-width="2"/>
<polygon points="1110.1,1939.1 1111.2,1959.7 1143.2,1941.1 1142,1920.5" fill="#fff" stroke-width="2"/>
<polygon points="1050.7,1827 1036.3,1829.8 1068.3,1811.2 1082.7,1808.4" fill="#fff" stroke-width="2"/>
<polygon points="1055.3,1847.5 1056.3,1850.9 1088.3,1832.3 1087.3,1828.9" fill="#fff" stroke-width="2"/>
<polygon points="1107.6,1936.7 1110.1,1939.1 1142,1920.5 1139.6,1918" fill="#fff" stroke-width="2"/>
<polygon points="1116.8,1964.6 1125.8,1952.6 1157.7,1934 1148.8,1945.9" fill="#fff" stroke-width="2"/>
<polygon points="1032.9,1802.6 1033.3,1809.5 1065.3,1790.9 1064.9,1784" fill="#fff" stroke-width="2"/>
<polygon points="1033.3,1809.5 1050.3,1823.8 1082.2,1805.2 1065.3,1790.9" fill="#fff" stroke-width="2"/>
<polygon points="1133.1,1976.5 1138.9,1980 1170.9,1961.4 1165.1,1957.9" fill="#fff" stroke-width="2"/>
<polygon points="1128.4,1954.5 1133.1,1976.5 1165.1,1957.9 1160.4,1935.9" fill="#fff" stroke-width="2"/>
<polygon points="1050.3,1823.8 1050.7,1827 1082.7,1808.4 1082.2,1805.2" fill="#fff" stroke-width="2"/>
<polygon points="1125.8,1952.6 1128.4,1954.5 1160.4,1935.9 1157.7,1934" fill="#fff" stroke-width="2"/>
<polygon points="1049,1804.5 1032.9,1802.6 1064.9,1784 1081,1785.9" fill="#fff" stroke-width="2"/>
<polygon points="1138.9,1980 1144.5,1964.4 1176.5,1945.8 1170.9,1961.4" fill="#fff" stroke-width="2"/>
<polygon points="1034.1,1777.8 1033.3,1784 1065.3,1765.4 1066,1759.2" fill="#fff" stroke-width="2"/>
<polygon points="1033.3,1784 1049.1,1801.5 1081.1,1782.9 1065.3,1765.4" fill="#fff" stroke-width="2"/>
<polygon points="1049.1,1801.5 1049,1804.5 1081,1785.9 1081.1,1782.9" fill="#fff" stroke-width="2"/>
<polygon points="1155.3,1988.1 1160.9,1990.2 1192.9,1971.6 1187.2,1969.5" fill="#fff" stroke-width="2"/>
<polygon points="1147.1,1965.7 1155.3,1988.1 1187.2,1969.5 1179.1,1947.1" fill="#fff" stroke-width="2"/>
<polygon points="1144.5,1964.4 1147.1,1965.7 1179.1,1947.1 1176.5,1945.8" fill="#fff" stroke-width="2"/>
<polygon points="1051.2,1784.4 1034.1,1777.8 1066,1759.2 1083.2,1765.7" fill="#fff" stroke-width="2"/>
<polygon points="1160.9,1990.2 1163,1971.5 1195,1952.9 1192.9,1971.6" fill="#fff" stroke-width="2"/>
<polygon points="1037.9,1761.7 1051.8,1781.8 1083.8,1763.2 1069.9,1743.1" fill="#fff" stroke-width="2"/>
<polygon points="1051.8,1781.8 1051.2,1784.4 1083.2,1765.7 1083.8,1763.2" fill="#fff" stroke-width="2"/>
<polygon points="1039.8,1756.5 1037.9,1761.7 1069.9,1743.1 1071.8,1737.9" fill="#fff" stroke-width="2"/>
<polygon points="1163,1971.5 1165.6,1972.2 1197.5,1953.5 1195,1952.9" fill="#fff" stroke-width="2"/>
<polygon points="1165.6,1972.2 1176.7,1994 1208.7,1975.4 1197.5,1953.5" fill="#fff" stroke-width="2"/>
<polygon points="1176.7,1994 1182,1994.5 1214,1975.9 1208.7,1975.4" fill="#fff" stroke-width="2"/>
<polygon points="1057.2,1767.4 1039.8,1756.5 1071.8,1737.9 1089.2,1748.8" fill="#fff" stroke-width="2"/>
<polygon points="1182,1994.5 1180.5,1973.7 1212.5,1955.1 1214,1975.9" fill="#fff" stroke-width="2"/>
<polygon points="1058.3,1765.3 1057.2,1767.4 1089.2,1748.8 1090.3,1746.7" fill="#fff" stroke-width="2"/>
<polygon points="1046.9,1743.6 1058.3,1765.3 1090.3,1746.7 1078.9,1725" fill="#fff" stroke-width="2"/>
<polygon points="1180.5,1973.7 1182.8,1973.6 1214.8,1955 1212.5,1955.1" fill="#fff" stroke-width="2"/>
<polygon points="1049.9,1739.7 1046.9,1743.6 1078.9,1725 1081.9,1721.1" fill="#fff" stroke-width="2"/>
<polygon points="1182.8,1973.6 1196.5,1993.9 1228.4,1975.3 1214.8,1955" fill="#fff" stroke-width="2"/>
<polygon points="1196.5,1993.9 1201.2,1992.9 1233.2,1974.3 1228.4,1975.3" fill="#fff" stroke-width="2"/>
<polygon points="1066.8,1754.4 1049.9,1739.7 1081.9,1721.1 1098.7,1735.8" fill="#fff" stroke-width="2"/>
<polygon points="1201.2,1992.9 1196.1,1970.9 1228.1,1952.3 1233.2,1974.3" fill="#fff" stroke-width="2"/>
<polygon points="1068.4,1752.9 1066.8,1754.4 1098.7,1735.8 1100.3,1734.3" fill="#fff" stroke-width="2"/>
<polygon points="1196.1,1970.9 1198.1,1970.1 1230.1,1951.5 1228.1,1952.3" fill="#fff" stroke-width="2"/>
<polygon points="1059.9,1730.6 1068.4,1752.9 1100.3,1734.3 1091.9,1711.9" fill="#fff" stroke-width="2"/>
<polygon points="1198.1,1970.1 1213.7,1988 1245.7,1969.3 1230.1,1951.5" fill="#fff" stroke-width="2"/>
<polygon points="1063.9,1728 1059.9,1730.6 1091.9,1711.9 1095.9,1709.4" fill="#fff" stroke-width="2"/>
<polygon points="1213.7,1988 1217.7,1985.4 1249.7,1966.8 1245.7,1969.3" fill="#fff" stroke-width="2"/>
<polygon points="1079.5,1745.9 1063.9,1728 1095.9,1709.4 1111.5,1727.3" fill="#fff" stroke-width="2"/>
<polygon points="1217.7,1985.4 1209.2,1963.1 1241.2,1944.5 1249.7,1966.8" fill="#fff" stroke-width="2"/>
<polygon points="1081.5,1745.1 1079.5,1745.9 1111.5,1727.3 1113.5,1726.5" fill="#fff" stroke-width="2"/>
<polygon points="1209.2,1963.1 1210.8,1961.6 1242.8,1943 1241.2,1944.5" fill="#fff" stroke-width="2"/>
<polygon points="1076.4,1723.1 1081.5,1745.1 1113.5,1726.5 1108.4,1704.4" fill="#fff" stroke-width="2"/>
<polygon points="1210.8,1961.6 1227.7,1976.3 1259.7,1957.7 1242.8,1943" fill="#fff" stroke-width="2"/>
<polygon points="1081.1,1722.1 1076.4,1723.1 1108.4,1704.4 1113.1,1703.5" fill="#fff" stroke-width="2"/>
<polygon points="1094.8,1742.4 1081.1,1722.1 1113.1,1703.5 1126.8,1723.8" fill="#fff" stroke-width="2"/>
<polygon points="1227.7,1976.3 1230.7,1972.4 1262.7,1953.8 1259.7,1957.7" fill="#fff" stroke-width="2"/>
<polygon points="1097.1,1742.3 1094.8,1742.4 1126.8,1723.8 1129.1,1723.7" fill="#fff" stroke-width="2"/>
<polygon points="1230.7,1972.4 1219.3,1950.7 1251.3,1932.1 1262.7,1953.8" fill="#fff" stroke-width="2"/>
<polygon points="1219.3,1950.7 1220.4,1948.6 1252.4,1930 1251.3,1932.1" fill="#fff" stroke-width="2"/>
<polygon points="1095.6,1721.5 1097.1,1742.3 1129.1,1723.7 1127.5,1702.8" fill="#fff" stroke-width="2"/>
<polygon points="1220.4,1948.6 1237.8,1959.5 1269.8,1940.8 1252.4,1930" fill="#fff" stroke-width="2"/>
<polygon points="1100.9,1722 1095.6,1721.5 1127.5,1702.8 1132.9,1703.4" fill="#fff" stroke-width="2"/>
<polygon points="1112,1743.8 1100.9,1722 1132.9,1703.4 1144,1725.2" fill="#fff" stroke-width="2"/>
<polygon points="1114.6,1744.5 1112,1743.8 1144,1725.2 1146.5,1725.8" fill="#fff" stroke-width="2"/>
<polygon points="1237.8,1959.5 1239.7,1954.3 1271.7,1935.7 1269.8,1940.8" fill="#fff" stroke-width="2"/>
<polygon points="1225.8,1934.2 1226.4,1931.6 1258.4,1913 1257.8,1915.6" fill="#fff" stroke-width="2"/>
<polygon points="1239.7,1954.3 1225.8,1934.2 1257.8,1915.6 1271.7,1935.7" fill="#fff" stroke-width="2"/>
<polygon points="1116.7,1725.8 1114.6,1744.5 1146.5,1725.8 1148.6,1707.2" fill="#fff" stroke-width="2"/>
<polygon points="1226.4,1931.6 1243.5,1938.2 1275.5,1919.6 1258.4,1913" fill="#fff" stroke-width="2"/>
<polygon points="1133.1,1751.6 1130.5,1750.3 1162.4,1731.7 1165.1,1733" fill="#fff" stroke-width="2"/>
<polygon points="1130.5,1750.3 1122.3,1727.9 1154.3,1709.3 1162.4,1731.7" fill="#fff" stroke-width="2"/>
<polygon points="1122.3,1727.9 1116.7,1725.8 1148.6,1707.2 1154.3,1709.3" fill="#fff" stroke-width="2"/>
<polygon points="1228.5,1914.5 1228.6,1911.5 1260.6,1892.9 1260.5,1895.8" fill="#fff" stroke-width="2"/>
<polygon points="1244.3,1932 1228.5,1914.5 1260.5,1895.8 1276.3,1913.4" fill="#fff" stroke-width="2"/>
<polygon points="1243.5,1938.2 1244.3,1932 1276.3,1913.4 1275.5,1919.6" fill="#fff" stroke-width="2"/>
<polygon points="1138.7,1736 1133.1,1751.6 1165.1,1733 1170.7,1717.4" fill="#fff" stroke-width="2"/>
<polygon points="1228.6,1911.5 1244.7,1913.4 1276.7,1894.8 1260.6,1892.9" fill="#fff" stroke-width="2"/>
<polygon points="1151.8,1763.4 1149.2,1761.5 1181.2,1742.9 1183.8,1744.8" fill="#fff" stroke-width="2"/>
<polygon points="1227.3,1892.2 1226.9,1889 1258.8,1870.3 1259.3,1873.6" fill="#fff" stroke-width="2"/>
<polygon points="1149.2,1761.5 1144.5,1739.5 1176.5,1720.9 1181.2,1742.9" fill="#fff" stroke-width="2"/>
<polygon points="1144.5,1739.5 1138.7,1736 1170.7,1717.4 1176.5,1720.9" fill="#fff" stroke-width="2"/>
<polygon points="1244.3,1906.5 1227.3,1892.2 1259.3,1873.6 1276.3,1887.9" fill="#fff" stroke-width="2"/>
<polygon points="1244.7,1913.4 1244.3,1906.5 1276.3,1887.9 1276.7,1894.8" fill="#fff" stroke-width="2"/>
<polygon points="1160.8,1751.4 1151.8,1763.4 1183.8,1744.8 1192.7,1732.8" fill="#fff" stroke-width="2"/>
<polygon points="1170,1779.3 1167.5,1776.9 1199.5,1758.3 1202,1760.7" fill="#fff" stroke-width="2"/>
<polygon points="1222.3,1868.5 1221.3,1865.1 1253.2,1846.5 1254.2,1849.9" fill="#fff" stroke-width="2"/>
<polygon points="1226.9,1889 1241.3,1886.2 1273.3,1867.6 1258.8,1870.3" fill="#fff" stroke-width="2"/>
<polygon points="1167.5,1776.9 1166.4,1756.3 1198.3,1737.7 1199.5,1758.3" fill="#fff" stroke-width="2"/>
<polygon points="1186.8,1798.7 1184.6,1795.8 1216.6,1777.2 1218.8,1780.1" fill="#fff" stroke-width="2"/>
<polygon points="1213.6,1844.3 1212.1,1840.9 1244,1822.3 1245.5,1825.7" fill="#fff" stroke-width="2"/>
<polygon points="1239.6,1878.9 1222.3,1868.5 1254.2,1849.9 1271.6,1860.3" fill="#fff" stroke-width="2"/>
<polygon points="1201.6,1820.7 1199.7,1817.5 1231.6,1798.9 1233.5,1802.1" fill="#fff" stroke-width="2"/>
<polygon points="1181.9,1771.6 1170,1779.3 1202,1760.7 1213.8,1753" fill="#fff" stroke-width="2"/>
<polygon points="1166.4,1756.3 1160.8,1751.4 1192.7,1732.8 1198.3,1737.7" fill="#fff" stroke-width="2"/>
<polygon points="1221.3,1865.1 1233.4,1857.8 1265.3,1839.2 1253.2,1846.5" fill="#fff" stroke-width="2"/>
<polygon points="1241.3,1886.2 1239.6,1878.9 1271.6,1860.3 1273.3,1867.6" fill="#fff" stroke-width="2"/>
<polygon points="1184.6,1795.8 1187.1,1777.5 1219,1758.9 1216.6,1777.2" fill="#fff" stroke-width="2"/>
<polygon points="1230.6,1850.3 1213.6,1844.3 1245.5,1825.7 1262.6,1831.7" fill="#fff" stroke-width="2"/>
<polygon points="1201.1,1795.5 1186.8,1798.7 1218.8,1780.1 1233,1776.9" fill="#fff" stroke-width="2"/>
<polygon points="1212.1,1840.9 1221.3,1829.4 1253.3,1810.8 1244,1822.3" fill="#fff" stroke-width="2"/>
<polygon points="1199.7,1817.5 1205.6,1802.2 1237.6,1783.6 1231.6,1798.9" fill="#fff" stroke-width="2"/>
<polygon points="1217.6,1822.1 1201.6,1820.7 1233.5,1802.1 1249.5,1803.5" fill="#fff" stroke-width="2"/>
<polygon points="1187.1,1777.5 1181.9,1771.6 1213.8,1753 1219,1758.9" fill="#fff" stroke-width="2"/>
<polygon points="1233.4,1857.8 1230.6,1850.3 1262.6,1831.7 1265.3,1839.2" fill="#fff" stroke-width="2"/>
<polygon points="1205.6,1802.2 1201.1,1795.5 1233,1776.9 1237.6,1783.6" fill="#fff" stroke-width="2"/>
<polygon points="1221.3,1829.4 1217.6,1822.1 1249.5,1803.5 1253.3,1810.8" fill="#fff" stroke-width="2"/>
<polygon points="1198.1,1970.1 1213.7,1988 1217.7,1985.4 1209.2,1963.1 1210.8,1961.6 1227.7,1976.3 1230.7,1972.4 1219.3,1950.7 1220.4,1948.6 1237.8,1959.5 1239.7,1954.3 1225.8,1934.2 1226.4,1931.6 1243.5,1938.2 1244.3,1932 1228.5,1914.5 1228.6,1911.5 1244.7,1913.4 1244.3,1906.5 1227.3,1892.2 1226.9,1889 1241.3,1886.2 1239.6,1878.9 1222.3,1868.5 1221.3,1865.1 1233.4,1857.8 1230.6,1850.3 1213.6,1844.3 1212.1,1840.9 1221.3,1829.4 1217.6,1822.1 1201.6,1820.7 1199.7,1817.5 1205.6,1802.2 1201.1,1795.5 1186.8,1798.7 1184.6,1795.8 1187.1,1777.5 1181.9,1771.6 1170,1779.3 1167.5,1776.9 1166.4,1756.3 1160.8,1751.4 1151.8,1763.4 1149.2,1761.5 1144.5,1739.5 1138.7,1736 1133.1,1751.6 1130.5,1750.3 1122.3,1727.9 1116.7,1725.8 1114.6,1744.5 1112,1743.8 1100.9,1722 1095.6,1721.5 1097.1,1742.3 1094.8,1742.4 1081.1,1722.1 1076.4,1723.1 1081.5,1745.1 1079.5,1745.9 1063.9,1728 1059.9,1730.6 1068.4,1752.9 1066.8,1754.4 1049.9,1739.7 1046.9,1743.6 1058.3,1765.3 1057.2,1767.4 1039.8,1756.5 1037.9,1761.7 1051.8,1781.8 1051.2,1784.4 1034.1,1777.8 1033.3,1784 1049.1,1801.5 1049,1804.5 1032.9,1802.6 1033.3,1809.5 1050.3,1823.8 1050.7,1827 1036.3,1829.8 1038,1837.1 1055.3,1847.5 1056.3,1850.9 1044.2,1858.2 1047,1865.7 1064,1871.7 1065.5,1875.1 1056.3,1886.6 1060,1893.9 1076,1895.3 1077.9,1898.5 1072,1913.8 1076.5,1920.5 1090.8,1917.3 1093,1920.2 1090.5,1938.5 1095.7,1944.4 1107.6,1936.7 1110.1,1939.1 1111.2,1959.7 1116.8,1964.6 1125.8,1952.6 1128.4,1954.5 1133.1,1976.5 1138.9,1980 1144.5,1964.4 1147.1,1965.7 1155.3,1988.1 1160.9,1990.2 1163,1971.5 1165.6,1972.2 1176.7,1994 1182,1994.5 1180.5,1973.7 1182.8,1973.6 1196.5,1993.9 1201.2,1992.9 1196.1,1970.9" fill="#fff" stroke-width="2"/>
<ellipse cx="1138.8" cy="1858" rx="65.5" ry="114" transform="rotate(-30.2 1138.8 1858)" fill="none" stroke-width="2"/>
<ellipse cx="1138.8" cy="1858" rx="63.5" ry="110.5" transform="rotate(-30.2 1138.8 1858)" fill="none" stroke-width="2"/>
<ellipse cx="1138.8" cy="1858" rx="52.3" ry="95" transform="rotate(-30.2 1138.8 1858)" fill="none" stroke-width="2"/>
<polygon points="1167,1908.7 1177.4,1923.5 1183.3,1918.5 1173.7,1903 1176.8,1897.3 1189.4,1907.4 1191.4,1898 1179.1,1886.6 1179.1,1878.2 1191.3,1881.6 1189.1,1869.6 1176.6,1864.5 1173.4,1855 1182.9,1851 1176.9,1838.9 1166.6,1841.1 1160.9,1832.5 1165.7,1821.9 1157.1,1812 1151,1821.1 1144,1815 1143.2,1799.9 1133.7,1794.2 1133.1,1808.4 1126,1806 1119.8,1789.4 1111.3,1789 1116.3,1805.5 1110.6,1807.3 1100.2,1792.5 1094.3,1797.5 1103.9,1813 1100.8,1818.7 1088.2,1808.6 1086.2,1818 1098.5,1829.4 1098.5,1837.8 1086.3,1834.4 1088.5,1846.4 1101,1851.5 1104.2,1861 1094.7,1865 1100.7,1877.1 1111,1874.9 1116.7,1883.5 1111.9,1894.1 1120.5,1904 1126.6,1894.9 1133.6,1901 1134.4,1916.1 1143.9,1921.8 1144.5,1907.6 1151.6,1910 1157.8,1926.6 1166.3,1927 1161.3,1910.5" fill="#fff" stroke-width="2"/>
<polygon points="1086.1,1870 1092.1,1882.2 1100.7,1877.1 1094.7,1865" fill="#fff" stroke-width="2"/>
<polygon points="1103.3,1899.1 1111.9,1909.1 1120.5,1904 1111.9,1894.1" fill="#fff" stroke-width="2"/>
<polygon points="1092.1,1882.2 1102.4,1879.9 1111,1874.9 1100.7,1877.1" fill="#fff" stroke-width="2"/>
<polygon points="1108.1,1888.5 1103.3,1899.1 1111.9,1894.1 1116.7,1883.5" fill="#fff" stroke-width="2"/>
<polygon points="1095.5,1866 1086.1,1870 1094.7,1865 1104.2,1861" fill="#fff" stroke-width="2"/>
<polygon points="1077.6,1839.5 1079.8,1851.5 1088.5,1846.4 1086.3,1834.4" fill="#fff" stroke-width="2"/>
<polygon points="1111.9,1909.1 1117.9,1899.9 1126.6,1894.9 1120.5,1904" fill="#fff" stroke-width="2"/>
<polygon points="1079.8,1851.5 1092.4,1856.5 1101,1851.5 1088.5,1846.4" fill="#fff" stroke-width="2"/>
<polygon points="1102.4,1879.9 1108.1,1888.5 1116.7,1883.5 1111,1874.9" fill="#fff" stroke-width="2"/>
<polygon points="1092.4,1856.5 1095.5,1866 1104.2,1861 1101,1851.5" fill="#fff" stroke-width="2"/>
<polygon points="1125.8,1921.1 1135.3,1926.9 1143.9,1921.8 1134.4,1916.1" fill="#fff" stroke-width="2"/>
<polygon points="1125,1906 1125.8,1921.1 1134.4,1916.1 1133.6,1901" fill="#fff" stroke-width="2"/>
<polygon points="1089.9,1842.9 1077.6,1839.5 1086.3,1834.4 1098.5,1837.8" fill="#fff" stroke-width="2"/>
<polygon points="1117.9,1899.9 1125,1906 1133.6,1901 1126.6,1894.9" fill="#fff" stroke-width="2"/>
<polygon points="1135.3,1926.9 1135.9,1912.6 1144.5,1907.6 1143.9,1921.8" fill="#fff" stroke-width="2"/>
<polygon points="1077.5,1823 1089.8,1834.5 1098.5,1829.4 1086.2,1818" fill="#fff" stroke-width="2"/>
<polygon points="1089.8,1834.5 1089.9,1842.9 1098.5,1837.8 1098.5,1829.4" fill="#fff" stroke-width="2"/>
<polygon points="1079.6,1813.6 1077.5,1823 1086.2,1818 1088.2,1808.6" fill="#fff" stroke-width="2"/>
<polygon points="1135.9,1912.6 1142.9,1915 1151.6,1910 1144.5,1907.6" fill="#fff" stroke-width="2"/>
<polygon points="1142.9,1915 1149.1,1931.6 1157.8,1926.6 1151.6,1910" fill="#fff" stroke-width="2"/>
<polygon points="1092.2,1823.7 1079.6,1813.6 1088.2,1808.6 1100.8,1818.7" fill="#fff" stroke-width="2"/>
<polygon points="1149.1,1931.6 1157.7,1932 1166.3,1927 1157.8,1926.6" fill="#fff" stroke-width="2"/>
<polygon points="1095.3,1818.1 1092.2,1823.7 1100.8,1818.7 1103.9,1813" fill="#fff" stroke-width="2"/>
<polygon points="1157.7,1932 1152.7,1915.5 1161.3,1910.5 1166.3,1927" fill="#fff" stroke-width="2"/>
<polygon points="1085.7,1802.6 1095.3,1818.1 1103.9,1813 1094.3,1797.5" fill="#fff" stroke-width="2"/>
<polygon points="1091.6,1797.6 1085.7,1802.6 1094.3,1797.5 1100.2,1792.5" fill="#fff" stroke-width="2"/>
<polygon points="1152.7,1915.5 1158.3,1913.7 1167,1908.7 1161.3,1910.5" fill="#fff" stroke-width="2"/>
<polygon points="1158.3,1913.7 1168.8,1928.5 1177.4,1923.5 1167,1908.7" fill="#fff" stroke-width="2"/>
<polygon points="1102,1812.4 1091.6,1797.6 1100.2,1792.5 1110.6,1807.3" fill="#fff" stroke-width="2"/>
<polygon points="1107.6,1810.6 1102,1812.4 1110.6,1807.3 1116.3,1805.5" fill="#fff" stroke-width="2"/>
<polygon points="1168.8,1928.5 1174.6,1923.5 1183.3,1918.5 1177.4,1923.5" fill="#fff" stroke-width="2"/>
<polygon points="1174.6,1923.5 1165.1,1908 1173.7,1903 1183.3,1918.5" fill="#fff" stroke-width="2"/>
<polygon points="1102.6,1794.1 1107.6,1810.6 1116.3,1805.5 1111.3,1789" fill="#fff" stroke-width="2"/>
<polygon points="1165.1,1908 1168.2,1902.3 1176.8,1897.3 1173.7,1903" fill="#fff" stroke-width="2"/>
<polygon points="1111.2,1794.5 1102.6,1794.1 1111.3,1789 1119.8,1789.4" fill="#fff" stroke-width="2"/>
<polygon points="1168.2,1902.3 1180.7,1912.4 1189.4,1907.4 1176.8,1897.3" fill="#fff" stroke-width="2"/>
<polygon points="1117.4,1811.1 1111.2,1794.5 1119.8,1789.4 1126,1806" fill="#fff" stroke-width="2"/>
<polygon points="1124.4,1813.5 1117.4,1811.1 1126,1806 1133.1,1808.4" fill="#fff" stroke-width="2"/>
<polygon points="1180.7,1912.4 1182.8,1903 1191.4,1898 1189.4,1907.4" fill="#fff" stroke-width="2"/>
<polygon points="1170.5,1891.6 1170.5,1883.2 1179.1,1878.2 1179.1,1886.6" fill="#fff" stroke-width="2"/>
<polygon points="1182.8,1903 1170.5,1891.6 1179.1,1886.6 1191.4,1898" fill="#fff" stroke-width="2"/>
<polygon points="1125,1799.2 1124.4,1813.5 1133.1,1808.4 1133.7,1794.2" fill="#fff" stroke-width="2"/>
<polygon points="1142.4,1826.2 1135.3,1820 1144,1815 1151,1821.1" fill="#fff" stroke-width="2"/>
<polygon points="1170.5,1883.2 1182.7,1886.6 1191.3,1881.6 1179.1,1878.2" fill="#fff" stroke-width="2"/>
<polygon points="1135.3,1820 1134.5,1805 1143.2,1799.9 1144,1815" fill="#fff" stroke-width="2"/>
<polygon points="1134.5,1805 1125,1799.2 1133.7,1794.2 1143.2,1799.9" fill="#fff" stroke-width="2"/>
<polygon points="1168,1869.5 1164.8,1860.1 1173.4,1855 1176.6,1864.5" fill="#fff" stroke-width="2"/>
<polygon points="1157.9,1846.2 1152.2,1837.5 1160.9,1832.5 1166.6,1841.1" fill="#fff" stroke-width="2"/>
<polygon points="1180.5,1874.6 1168,1869.5 1176.6,1864.5 1189.1,1869.6" fill="#fff" stroke-width="2"/>
<polygon points="1148.4,1817 1142.4,1826.2 1151,1821.1 1157.1,1812" fill="#fff" stroke-width="2"/>
<polygon points="1182.7,1886.6 1180.5,1874.6 1189.1,1869.6 1191.3,1881.6" fill="#fff" stroke-width="2"/>
<polygon points="1164.8,1860.1 1174.2,1856.1 1182.9,1851 1173.4,1855" fill="#fff" stroke-width="2"/>
<polygon points="1152.2,1837.5 1157,1826.9 1165.7,1821.9 1160.9,1832.5" fill="#fff" stroke-width="2"/>
<polygon points="1168.2,1843.9 1157.9,1846.2 1166.6,1841.1 1176.9,1838.9" fill="#fff" stroke-width="2"/>
<polygon points="1157,1826.9 1148.4,1817 1157.1,1812 1165.7,1821.9" fill="#fff" stroke-width="2"/>
<polygon points="1174.2,1856.1 1168.2,1843.9 1176.9,1838.9 1182.9,1851" fill="#fff" stroke-width="2"/>
<polygon points="1158.3,1913.7 1168.8,1928.5 1174.6,1923.5 1165.1,1908 1168.2,1902.3 1180.7,1912.4 1182.8,1903 1170.5,1891.6 1170.5,1883.2 1182.7,1886.6 1180.5,1874.6 1168,1869.5 1164.8,1860.1 1174.2,1856.1 1168.2,1843.9 1157.9,1846.2 1152.2,1837.5 1157,1826.9 1148.4,1817 1142.4,1826.2 1135.3,1820 1134.5,1805 1125,1799.2 1124.4,1813.5 1117.4,1811.1 1111.2,1794.5 1102.6,1794.1 1107.6,1810.6 1102,1812.4 1091.6,1797.6 1085.7,1802.6 1095.3,1818.1 1092.2,1823.7 1079.6,1813.6 1077.5,1823 1089.8,1834.5 1089.9,1842.9 1077.6,1839.5 1079.8,1851.5 1092.4,1856.5 1095.5,1866 1086.1,1870 1092.1,1882.2 1102.4,1879.9 1108.1,1888.5 1103.3,1899.1 1111.9,1909.1 1117.9,1899.9 1125,1906 1125.8,1921.1 1135.3,1926.9 1135.9,1912.6 1142.9,1915 1149.1,1931.6 1157.7,1932 1152.7,1915.5" fill="#fff" stroke-width="2"/>
<ellipse cx="1130.2" cy="1863" rx="31.9" ry="57" transform="rotate(-30.2 1130.2 1863)" fill="#fff" stroke-width="2.4"/>
<ellipse cx="1138.8" cy="1858" rx="22" ry="40" transform="rotate(-30.2 1138.8 1858)" fill="#fff" stroke-width="2"/>
<clipPath id="c2"><ellipse cx="1138.8" cy="1858" rx="22" ry="40" transform="rotate(-30.2 1138.8 1858)"/></clipPath>
<g clip-path="url(#c2)">
<ellipse cx="1157.8" cy="1846.9" rx="22" ry="40" transform="rotate(-30.2 1157.8 1846.9)" fill="none" stroke-width="2"/>
</g>
<ellipse cx="1784.5" cy="1483.7" rx="16.8" ry="28" transform="rotate(-30.2 1784.5 1483.7)" fill="#fff" stroke-width="2"/>
<polygon points="1776.9,1520.5 1798.6,1507.9 1770.4,1459.5 1748.8,1472.1" fill="#fff" stroke="none"/>
<line x1="1776.9" y1="1520.5" x2="1798.6" y2="1507.9" stroke-width="2"/>
<line x1="1748.8" y1="1472.1" x2="1770.4" y2="1459.5" stroke-width="2"/>
<ellipse cx="1762.9" cy="1496.3" rx="16.8" ry="28" transform="rotate(-30.2 1762.9 1496.3)" fill="#fff" stroke-width="2"/>
<polyline points="1781.1,1518 1782.1,1517.2 1783,1516.3 1783.8,1515.3 1784.6,1514.1 1785.2,1512.8 1785.7,1511.4 1786.1,1509.9 1786.3,1508.3 1786.5,1506.6 1786.5,1504.9 1786.5,1503.1 1786.3,1501.2 1786,1499.3 1785.6,1497.4 1785,1495.4 1784.4,1493.5 1783.6,1491.5 1782.8,1489.6 1781.9,1487.7 1780.8,1485.9 1779.7,1484 1778.5,1482.3 1777.3,1480.6 1776,1479 1774.6,1477.5 1773.1,1476.1 1771.7,1474.7 1770.2,1473.5 1768.7,1472.5 1767.1,1471.5 1765.6,1470.7 1764.1,1470 1762.5,1469.4 1761,1469 1759.6,1468.8 1758.1,1468.7 1756.8,1468.7 1755.4,1468.9 1754.2,1469.2 1753,1469.7" fill="none" stroke-width="1.6"/>
<polyline points="1784.6,1516 1785.6,1515.2 1786.5,1514.3 1787.3,1513.2 1788,1512.1 1788.6,1510.8 1789.1,1509.4 1789.5,1507.9 1789.8,1506.3 1790,1504.6 1790,1502.8 1789.9,1501 1789.7,1499.2 1789.4,1497.3 1789,1495.4 1788.5,1493.4 1787.8,1491.5 1787.1,1489.5 1786.3,1487.6 1785.3,1485.7 1784.3,1483.8 1783.2,1482 1782,1480.3 1780.7,1478.6 1779.4,1477 1778,1475.5 1776.6,1474 1775.1,1472.7 1773.6,1471.5 1772.1,1470.4 1770.6,1469.5 1769,1468.7 1767.5,1468 1766,1467.4 1764.5,1467 1763,1466.8 1761.6,1466.7 1760.2,1466.7 1758.9,1466.9 1757.6,1467.2 1756.4,1467.7" fill="none" stroke-width="1.6"/>
<polyline points="1788,1514 1789,1513.2 1789.9,1512.3 1790.8,1511.2 1791.5,1510 1792.1,1508.7 1792.6,1507.3 1793,1505.8 1793.3,1504.2 1793.4,1502.6 1793.5,1500.8 1793.4,1499 1793.2,1497.2 1792.9,1495.3 1792.5,1493.4 1791.9,1491.4 1791.3,1489.5 1790.6,1487.5 1789.7,1485.6 1788.8,1483.7 1787.8,1481.8 1786.6,1480 1785.4,1478.3 1784.2,1476.6 1782.9,1475 1781.5,1473.4 1780.1,1472 1778.6,1470.7 1777.1,1469.5 1775.6,1468.4 1774,1467.5 1772.5,1466.7 1771,1466 1769.5,1465.4 1768,1465 1766.5,1464.8 1765.1,1464.6 1763.7,1464.7 1762.3,1464.9 1761.1,1465.2 1759.9,1465.7" fill="none" stroke-width="1.6"/>
<polyline points="1791.5,1512 1792.5,1511.2 1793.4,1510.3 1794.2,1509.2 1794.9,1508 1795.5,1506.7 1796,1505.3 1796.4,1503.8 1796.7,1502.2 1796.9,1500.6 1796.9,1498.8 1796.8,1497 1796.7,1495.2 1796.3,1493.3 1795.9,1491.3 1795.4,1489.4 1794.8,1487.4 1794,1485.5 1793.2,1483.6 1792.2,1481.7 1791.2,1479.8 1790.1,1478 1788.9,1476.2 1787.6,1474.6 1786.3,1473 1784.9,1471.4 1783.5,1470 1782.1,1468.7 1780.6,1467.5 1779,1466.4 1777.5,1465.5 1776,1464.6 1774.4,1464 1772.9,1463.4 1771.4,1463 1769.9,1462.7 1768.5,1462.6 1767.1,1462.7 1765.8,1462.9 1764.5,1463.2 1763.3,1463.7" fill="none" stroke-width="1.6"/>
<polyline points="1794.9,1510 1795.9,1509.2 1796.9,1508.3 1797.7,1507.2 1798.4,1506 1799,1504.7 1799.5,1503.3 1799.9,1501.8 1800.2,1500.2 1800.3,1498.6 1800.4,1496.8 1800.3,1495 1800.1,1493.1 1799.8,1491.3 1799.4,1489.3 1798.9,1487.4 1798.2,1485.4 1797.5,1483.5 1796.6,1481.6 1795.7,1479.7 1794.7,1477.8 1793.6,1476 1792.4,1474.2 1791.1,1472.5 1789.8,1470.9 1788.4,1469.4 1787,1468 1785.5,1466.7 1784,1465.5 1782.5,1464.4 1781,1463.5 1779.4,1462.6 1777.9,1461.9 1776.4,1461.4 1774.9,1461 1773.4,1460.7 1772,1460.6 1770.6,1460.7 1769.3,1460.8 1768,1461.2 1766.8,1461.7" fill="none" stroke-width="1.6"/>
<ellipse cx="1762.9" cy="1496.3" rx="20.1" ry="33.5" transform="rotate(-30.2 1762.9 1496.3)" fill="#fff" stroke-width="2"/>
<polygon points="1718.3,1561 1779.7,1525.3 1746,1467.4 1684.6,1503.1" fill="#fff" stroke="none"/>
<line x1="1718.3" y1="1561" x2="1779.7" y2="1525.3" stroke-width="2"/>
<line x1="1684.6" y1="1503.1" x2="1746" y2="1467.4" stroke-width="2"/>
<ellipse cx="1701.5" cy="1532" rx="20.1" ry="33.5" transform="rotate(-30.2 1701.5 1532)" fill="#fff" stroke-width="2"/>
<line x1="1722.1" y1="1557.6" x2="1783.5" y2="1521.9" stroke-width="1.6"/>
<line x1="1724.4" y1="1553.3" x2="1785.8" y2="1517.5" stroke-width="1.6"/>
<line x1="1725.6" y1="1547.9" x2="1786.9" y2="1512.2" stroke-width="1.6"/>
<line x1="1725.6" y1="1541.8" x2="1786.9" y2="1506.1" stroke-width="1.6"/>
<line x1="1724.4" y1="1535.2" x2="1785.8" y2="1499.5" stroke-width="1.6"/>
<line x1="1722.1" y1="1528.5" x2="1783.5" y2="1492.8" stroke-width="1.6"/>
<line x1="1718.9" y1="1521.9" x2="1780.2" y2="1486.2" stroke-width="1.6"/>
<line x1="1714.8" y1="1515.8" x2="1776.1" y2="1480.1" stroke-width="1.6"/>
<line x1="1710" y1="1510.5" x2="1771.4" y2="1474.8" stroke-width="1.6"/>
<line x1="1704.9" y1="1506.3" x2="1766.2" y2="1470.6" stroke-width="1.6"/>
<line x1="1699.6" y1="1503.3" x2="1760.9" y2="1467.6" stroke-width="1.6"/>
<line x1="1694.3" y1="1501.6" x2="1755.7" y2="1465.9" stroke-width="1.6"/>
<line x1="1689.5" y1="1501.5" x2="1750.8" y2="1465.8" stroke-width="1.6"/>
<ellipse cx="1701.5" cy="1532" rx="23.7" ry="39.5" transform="rotate(-30.2 1701.5 1532)" fill="#fff" stroke-width="2"/>
<polygon points="1633.2,1617.5 1721.4,1566.2 1681.6,1497.9 1593.5,1549.2" fill="#fff" stroke="none"/>
<line x1="1633.2" y1="1617.5" x2="1721.4" y2="1566.2" stroke-width="2"/>
<line x1="1593.5" y1="1549.2" x2="1681.6" y2="1497.9" stroke-width="2"/>
<ellipse cx="1613.3" cy="1583.3" rx="23.7" ry="39.5" transform="rotate(-30.2 1613.3 1583.3)" fill="#fff" stroke-width="2"/>
<ellipse cx="1613.3" cy="1583.3" rx="25.8" ry="43" transform="rotate(-30.2 1613.3 1583.3)" fill="#fff" stroke-width="2"/>
<polygon points="1578.8,1653.2 1635,1620.5 1591.7,1546.2 1535.5,1578.9" fill="#fff" stroke="none"/>
<line x1="1578.8" y1="1653.2" x2="1635" y2="1620.5" stroke-width="2"/>
<line x1="1535.5" y1="1578.9" x2="1591.7" y2="1546.2" stroke-width="2"/>
<ellipse cx="1557.2" cy="1616" rx="25.8" ry="43" transform="rotate(-30.2 1557.2 1616)" fill="#fff" stroke-width="2"/>
<ellipse cx="1608.1" cy="1622.2" rx="5.5" ry="7.5" fill="#fff" stroke-width="2" transform="rotate(-20 1608.1 1622.2)"/>
<ellipse cx="1557.2" cy="1616" rx="21.6" ry="36" transform="rotate(-30.2 1557.2 1616)" fill="#fff" stroke-width="2"/>
<polygon points="1551.9,1660.7 1575.3,1647.1 1539.1,1584.9 1515.7,1598.5" fill="#fff" stroke="none"/>
<line x1="1551.9" y1="1660.7" x2="1575.3" y2="1647.1" stroke-width="2"/>
<line x1="1515.7" y1="1598.5" x2="1539.1" y2="1584.9" stroke-width="2"/>
<ellipse cx="1533.8" cy="1629.6" rx="21.6" ry="36" transform="rotate(-30.2 1533.8 1629.6)" fill="#fff" stroke-width="2"/>
<ellipse cx="1535.6" cy="1628.6" rx="22.8" ry="38" transform="rotate(-30.2 1535.6 1628.6)" fill="#fff" stroke-width="2"/>
<polygon points="1509.7,1687.6 1554.7,1661.4 1516.4,1595.8 1471.5,1621.9" fill="#fff" stroke="none"/>
<line x1="1509.7" y1="1687.6" x2="1554.7" y2="1661.4" stroke-width="2"/>
<line x1="1471.5" y1="1621.9" x2="1516.4" y2="1595.8" stroke-width="2"/>
<ellipse cx="1490.6" cy="1654.8" rx="22.8" ry="38" transform="rotate(-30.2 1490.6 1654.8)" fill="#fff" stroke-width="2"/>
<line x1="1514" y1="1683.7" x2="1559" y2="1657.6" stroke-width="1.6"/>
<line x1="1516.6" y1="1678.8" x2="1561.5" y2="1652.7" stroke-width="1.6"/>
<line x1="1517.9" y1="1672.8" x2="1562.8" y2="1646.6" stroke-width="1.6"/>
<line x1="1517.9" y1="1665.9" x2="1562.8" y2="1639.7" stroke-width="1.6"/>
<line x1="1516.6" y1="1658.4" x2="1561.5" y2="1632.2" stroke-width="1.6"/>
<line x1="1514" y1="1650.7" x2="1559" y2="1624.6" stroke-width="1.6"/>
<line x1="1510.3" y1="1643.3" x2="1555.3" y2="1617.1" stroke-width="1.6"/>
<line x1="1505.7" y1="1636.4" x2="1550.6" y2="1610.2" stroke-width="1.6"/>
<line x1="1500.3" y1="1630.4" x2="1545.2" y2="1604.2" stroke-width="1.6"/>
<line x1="1494.5" y1="1625.6" x2="1539.4" y2="1599.4" stroke-width="1.6"/>
<line x1="1488.4" y1="1622.1" x2="1533.4" y2="1596" stroke-width="1.6"/>
<line x1="1482.5" y1="1620.3" x2="1527.4" y2="1594.1" stroke-width="1.6"/>
<line x1="1477" y1="1620.1" x2="1521.9" y2="1593.9" stroke-width="1.6"/>
<ellipse cx="1490.6" cy="1654.8" rx="21.6" ry="36" transform="rotate(-30.2 1490.6 1654.8)" fill="#fff" stroke-width="2"/>
<polygon points="1468.1,1709.5 1508.7,1685.9 1472.5,1623.7 1431.9,1647.3" fill="#fff" stroke="none"/>
<line x1="1468.1" y1="1709.5" x2="1508.7" y2="1685.9" stroke-width="2"/>
<line x1="1431.9" y1="1647.3" x2="1472.5" y2="1623.7" stroke-width="2"/>
<ellipse cx="1450" cy="1678.4" rx="21.6" ry="36" transform="rotate(-30.2 1450 1678.4)" fill="#fff" stroke-width="2"/>
<polyline points="1477.6,1704 1479,1703 1480.3,1701.9 1481.5,1700.6 1482.5,1699.1 1483.4,1697.5 1484.1,1695.7 1484.7,1693.7 1485.1,1691.7 1485.4,1689.5 1485.5,1687.2 1485.5,1684.8 1485.2,1682.4 1484.9,1679.9 1484.4,1677.3 1483.7,1674.7 1482.9,1672.2 1481.9,1669.6 1480.8,1667 1479.5,1664.5 1478.2,1662 1476.7,1659.6 1475.1,1657.3 1473.4,1655 1471.7,1652.9 1469.8,1650.9 1467.9,1649.1 1466,1647.4 1464,1645.8 1461.9,1644.4 1459.9,1643.2 1457.9,1642.2 1455.8,1641.3 1453.8,1640.7 1451.8,1640.2 1449.9,1640 1448,1639.9 1446.2,1640.1 1444.5,1640.4 1442.9,1641 1441.4,1641.8" fill="none" stroke-width="1.6"/>
<polyline points="1481.9,1701.5 1483.3,1700.5 1484.6,1699.4 1485.8,1698.1 1486.8,1696.6 1487.7,1694.9 1488.4,1693.1 1489,1691.2 1489.4,1689.1 1489.7,1687 1489.8,1684.7 1489.8,1682.3 1489.6,1679.9 1489.2,1677.4 1488.7,1674.8 1488,1672.2 1487.2,1669.6 1486.2,1667.1 1485.1,1664.5 1483.9,1662 1482.5,1659.5 1481,1657.1 1479.4,1654.8 1477.7,1652.5 1476,1650.4 1474.1,1648.4 1472.2,1646.6 1470.3,1644.8 1468.3,1643.3 1466.3,1641.9 1464.2,1640.7 1462.2,1639.6 1460.1,1638.8 1458.1,1638.2 1456.2,1637.7 1454.2,1637.5 1452.4,1637.4 1450.6,1637.6 1448.9,1637.9 1447.2,1638.5 1445.7,1639.2" fill="none" stroke-width="1.6"/>
<polyline points="1487.1,1698.5 1488.5,1697.5 1489.8,1696.4 1491,1695.1 1492,1693.6 1492.9,1691.9 1493.6,1690.1 1494.2,1688.2 1494.6,1686.1 1494.9,1683.9 1495,1681.7 1495,1679.3 1494.8,1676.8 1494.4,1674.3 1493.9,1671.8 1493.2,1669.2 1492.4,1666.6 1491.4,1664 1490.3,1661.5 1489,1658.9 1487.7,1656.5 1486.2,1654.1 1484.6,1651.7 1482.9,1649.5 1481.2,1647.4 1479.3,1645.4 1477.4,1643.5 1475.5,1641.8 1473.5,1640.3 1471.4,1638.9 1469.4,1637.7 1467.4,1636.6 1465.3,1635.8 1463.3,1635.1 1461.3,1634.7 1459.4,1634.4 1457.6,1634.4 1455.8,1634.5 1454,1634.9 1452.4,1635.5 1450.9,1636.2" fill="none" stroke-width="1.6"/>
<ellipse cx="1450" cy="1678.4" rx="16.2" ry="27" transform="rotate(-30.2 1450 1678.4)" fill="#fff" stroke-width="2"/>
<polygon points="1436.8,1717.3 1463.6,1701.7 1436.4,1655.1 1409.6,1670.7" fill="#fff" stroke="none"/>
<line x1="1436.8" y1="1717.3" x2="1463.6" y2="1701.7" stroke-width="2"/>
<line x1="1409.6" y1="1670.7" x2="1436.4" y2="1655.1" stroke-width="2"/>
<ellipse cx="1423.2" cy="1694" rx="16.2" ry="27" transform="rotate(-30.2 1423.2 1694)" fill="#fff" stroke-width="2"/>
<polyline points="1441.9,1713.7 1442.6,1712.8 1443.2,1711.8 1443.8,1710.7 1444.3,1709.5 1444.7,1708.3 1445,1706.9 1445.2,1705.5 1445.3,1704 1445.3,1702.5 1445.2,1701 1445.1,1699.3 1444.8,1697.7 1444.5,1696 1444.1,1694.3 1443.5,1692.7 1442.9,1691 1442.3,1689.3 1441.5,1687.6 1440.7,1686 1439.8,1684.3 1438.8,1682.8 1437.8,1681.2 1436.7,1679.7 1435.6,1678.3 1434.4,1677 1433.2,1675.7 1431.9,1674.5 1430.7,1673.4 1429.4,1672.3 1428,1671.4 1426.7,1670.6 1425.4,1669.8 1424,1669.2 1422.7,1668.7 1421.4,1668.3 1420.1,1668 1418.8,1667.8 1417.6,1667.8 1416.4,1667.8 1415.3,1668" fill="none" stroke-width="1.6"/>
<ellipse cx="1421.7" cy="1694" rx="5" ry="7" fill="#fff" stroke-width="2" transform="rotate(-25 1421.7 1694)"/>
<ellipse cx="1533.8" cy="437.9" rx="16.8" ry="28" transform="rotate(-30.2 1533.8 437.9)" fill="#fff" stroke-width="2"/>
<polygon points="1542.7,465.1 1547.9,462.1 1519.7,413.7 1514.5,416.7" fill="#fff" stroke="none"/>
<line x1="1542.7" y1="465.1" x2="1547.9" y2="462.1" stroke-width="2"/>
<line x1="1514.5" y1="416.7" x2="1519.7" y2="413.7" stroke-width="2"/>
<ellipse cx="1528.6" cy="440.9" rx="16.8" ry="28" transform="rotate(-30.2 1528.6 440.9)" fill="#fff" stroke-width="2"/>
<ellipse cx="1529.5" cy="440.4" rx="10.8" ry="18" transform="rotate(-30.2 1529.5 440.4)" fill="#fff" stroke-width="2"/>
<polygon points="1499.6,478.6 1538.5,456 1520.4,424.9 1481.5,447.5" fill="#fff" stroke="none"/>
<line x1="1499.6" y1="478.6" x2="1538.5" y2="456" stroke-width="2"/>
<line x1="1481.5" y1="447.5" x2="1520.4" y2="424.9" stroke-width="2"/>
<line x1="1504.4" y1="468" x2="1541.6" y2="446.4" stroke-width="1.6"/>
<line x1="1500.5" y1="456.7" x2="1537.7" y2="435.1" stroke-width="1.6"/>
<line x1="1492.4" y1="448.1" x2="1529.5" y2="426.5" stroke-width="1.6"/>
<ellipse cx="1491.5" cy="462.6" rx="13.5" ry="22.5" transform="rotate(-30.2 1491.5 462.6)" fill="#fff" stroke-width="2"/>
<polygon points="1499.3,484 1502.8,482 1480.1,443.1 1476.7,445.1" fill="#fff" stroke="none"/>
<line x1="1499.3" y1="484" x2="1502.8" y2="482" stroke-width="2"/>
<line x1="1476.7" y1="445.1" x2="1480.1" y2="443.1" stroke-width="2"/>
<ellipse cx="1488" cy="464.6" rx="13.5" ry="22.5" transform="rotate(-30.2 1488 464.6)" fill="#fff" stroke-width="2"/>
<ellipse cx="1490.6" cy="463.1" rx="10.8" ry="18" transform="rotate(-30.2 1490.6 463.1)" fill="#fff" stroke-width="2"/>
<polygon points="1460.8,501.3 1499.6,478.6 1481.5,447.5 1442.6,470.1" fill="#fff" stroke="none"/>
<line x1="1460.8" y1="501.3" x2="1499.6" y2="478.6" stroke-width="2"/>
<line x1="1442.6" y1="470.1" x2="1481.5" y2="447.5" stroke-width="2"/>
<line x1="1465.5" y1="490.6" x2="1502.7" y2="469" stroke-width="1.6"/>
<line x1="1461.6" y1="479.3" x2="1498.8" y2="457.7" stroke-width="1.6"/>
<line x1="1453.5" y1="470.8" x2="1490.7" y2="449.2" stroke-width="1.6"/>
<ellipse cx="1452.6" cy="485.2" rx="13.5" ry="22.5" transform="rotate(-30.2 1452.6 485.2)" fill="#fff" stroke-width="2"/>
<polygon points="1460.4,506.7 1463.9,504.6 1441.2,465.8 1437.8,467.8" fill="#fff" stroke="none"/>
<line x1="1460.4" y1="506.7" x2="1463.9" y2="504.6" stroke-width="2"/>
<line x1="1437.8" y1="467.8" x2="1441.2" y2="465.8" stroke-width="2"/>
<ellipse cx="1449.1" cy="487.2" rx="13.5" ry="22.5" transform="rotate(-30.2 1449.1 487.2)" fill="#fff" stroke-width="2"/>
<ellipse cx="1451.7" cy="485.7" rx="10.8" ry="18" transform="rotate(-30.2 1451.7 485.7)" fill="#fff" stroke-width="2"/>
<polygon points="1423.6,522.9 1460.8,501.3 1442.6,470.1 1405.5,491.8" fill="#fff" stroke="none"/>
<line x1="1423.6" y1="522.9" x2="1460.8" y2="501.3" stroke-width="2"/>
<line x1="1405.5" y1="491.8" x2="1442.6" y2="470.1" stroke-width="2"/>
<line x1="1428.3" y1="512.2" x2="1463.8" y2="491.6" stroke-width="1.6"/>
<line x1="1424.5" y1="500.9" x2="1459.9" y2="480.3" stroke-width="1.6"/>
<line x1="1416.3" y1="492.4" x2="1451.8" y2="471.8" stroke-width="1.6"/>
<ellipse cx="1415.4" cy="506.8" rx="13.5" ry="22.5" transform="rotate(-30.2 1415.4 506.8)" fill="#fff" stroke-width="2"/>
<polygon points="1423.3,528.3 1426.7,526.3 1404.1,487.4 1400.6,489.4" fill="#fff" stroke="none"/>
<line x1="1423.3" y1="528.3" x2="1426.7" y2="526.3" stroke-width="2"/>
<line x1="1400.6" y1="489.4" x2="1404.1" y2="487.4" stroke-width="2"/>
<ellipse cx="1411.9" cy="508.8" rx="13.5" ry="22.5" transform="rotate(-30.2 1411.9 508.8)" fill="#fff" stroke-width="2"/>
<ellipse cx="1414.5" cy="507.3" rx="10.8" ry="18" transform="rotate(-30.2 1414.5 507.3)" fill="#fff" stroke-width="2"/>
<polygon points="1379.5,548.5 1423.6,522.9 1405.5,491.8 1361.4,517.4" fill="#fff" stroke="none"/>
<line x1="1379.5" y1="548.5" x2="1423.6" y2="522.9" stroke-width="2"/>
<line x1="1361.4" y1="517.4" x2="1405.5" y2="491.8" stroke-width="2"/>
<line x1="1384.3" y1="537.9" x2="1426.6" y2="513.3" stroke-width="1.6"/>
<line x1="1380.4" y1="526.6" x2="1422.7" y2="502" stroke-width="1.6"/>
<line x1="1372.2" y1="518.1" x2="1414.6" y2="493.4" stroke-width="1.6"/>
<ellipse cx="1372.2" cy="532" rx="18" ry="30" transform="rotate(-30.2 1372.2 532)" fill="#fff" stroke-width="2"/>
<polygon points="1382.1,560.9 1387.3,557.9 1357.1,506.1 1351.9,509.1" fill="#fff" stroke="none"/>
<line x1="1382.1" y1="560.9" x2="1387.3" y2="557.9" stroke-width="2"/>
<line x1="1351.9" y1="509.1" x2="1357.1" y2="506.1" stroke-width="2"/>
<ellipse cx="1367" cy="535" rx="18" ry="30" transform="rotate(-30.2 1367 535)" fill="#fff" stroke-width="2"/>
<polygon points="1348,512.9 1199.3,1000 1183.8,1054.8 1176.7,1090.5 1171.9,1107.1 1162.4,1121.4 1155.2,1129.8 1145.7,1136.9 1120,1141 1102.9,1147.6 1092,1158 1087.5,1170 1086.2,1180 1086.2,1214.3 1091,1223.8 1105.2,1234.5 1131.4,1239.3 1160,1235.7 1193.3,1220.2 1200.5,1225 1214.8,1217.9 1218.3,1211.9 1218.3,1166.7 1221.9,1154.8 1231.4,1138.1 1239.8,1119 1245.7,1090.5 1262.4,1000 1383.6,559.9" fill="#fff" stroke="none"/>
<polyline points="1348,512.9 1199.3,1000 1183.8,1054.8" fill="none" stroke-width="2"/>
<path d="M1183.8,1054.8 C1182.6,1060.8 1178.7,1081.8 1176.7,1090.5 C1174.7,1099.2 1174.3,1101.9 1171.9,1107.1 C1169.5,1112.2 1165.2,1117.6 1162.4,1121.4 C1159.6,1125.2 1158,1127.2 1155.2,1129.8 C1152.4,1132.4 1147.3,1135.7 1145.7,1136.9" fill="none" stroke-width="2"/>
<polyline points="1383.6,559.9 1262.4,1000 1245.7,1090.5" fill="none" stroke-width="2"/>
<path d="M1245.7,1090.5 C1244.7,1095.2 1242.2,1111.1 1239.8,1119 C1237.4,1126.9 1234.4,1132.1 1231.4,1138.1 C1228.4,1144.1 1224.1,1150 1221.9,1154.8 C1219.7,1159.6 1218.9,1164.7 1218.3,1166.7" fill="none" stroke-width="2"/>
<path d="M1145.7,1136.9 C1141.4,1137.6 1127.1,1139.2 1120,1141 C1112.9,1142.8 1107.6,1144.8 1102.9,1147.6 C1098.2,1150.4 1094.6,1154.3 1092,1158 C1089.4,1161.7 1088.5,1166.3 1087.5,1170 C1086.5,1173.7 1086.4,1172.6 1086.2,1180 C1086,1187.4 1085.4,1207 1086.2,1214.3 C1087,1221.6 1087.8,1220.4 1091,1223.8 C1094.2,1227.2 1098.5,1231.9 1105.2,1234.5 C1111.9,1237.1 1122.3,1239.1 1131.4,1239.3 C1140.5,1239.5 1149.7,1238.9 1160,1235.7 C1170.3,1232.5 1187.8,1222.8 1193.3,1220.2" fill="none" stroke-width="2"/>
<polyline points="1193.3,1220.2 1199.3,1225.5 1200.5,1216.7 1193.3,1220.2" fill="none" stroke-width="1.6"/>
<polyline points="1200.5,1225 1214.8,1217.9 1218.3,1211.9 1218.3,1166.7" fill="none" stroke-width="2"/>
<line x1="1358.7" y1="565.3" x2="1321.1" y2="688.1" stroke-width="2"/>
<line x1="1303" y1="750.3" x2="1261.9" y2="898" stroke-width="2"/>
<path d="M1246.3,964 C1244.6,971.7 1240,991.5 1236,1010 C1232,1028.5 1226.3,1057.4 1222,1075 C1217.7,1092.6 1212,1108.8 1210,1115.5" fill="none" stroke-width="2"/>
<ellipse cx="1137.4" cy="1162.6" rx="29.4" ry="16.7" fill="#fff" stroke-width="2"/>
<path d="M1100,1178 C1099.7,1176 1097.7,1169.8 1098,1166 C1098.3,1162.2 1100.3,1157.7 1102,1155 C1103.7,1152.3 1107,1150.8 1108,1150" fill="none" stroke-width="2"/>
<path d="M1107,1177 C1110,1178.2 1117.8,1183.3 1125,1184.5 C1132.2,1185.7 1142.5,1185.2 1150,1184 C1157.5,1182.8 1164.5,1180 1170,1177 C1175.5,1174 1180.8,1167.8 1183,1166" fill="none" stroke-width="2"/>
<path d="M1094.5,1196.4 C1097.1,1197.7 1103.8,1201.8 1110,1204 C1116.2,1206.2 1123.1,1209.2 1131.4,1209.5 C1139.7,1209.8 1151.1,1209.2 1160,1206 C1168.9,1202.8 1180.8,1193.1 1185,1190.5" fill="none" stroke-width="2"/>
<path d="M1155,1128 C1157.5,1127.8 1165.3,1125.8 1170,1127 C1174.7,1128.2 1179.9,1131.8 1183,1135 C1186.1,1138.2 1187.7,1144.2 1188.6,1146" fill="none" stroke-width="2"/>
<line x1="1153" y1="1134" x2="1183" y2="1150" stroke-width="2"/>
<polygon points="591.4,1154.3 589.3,1186.4 583,1200 580.7,1225 590,1250 610,1265 632.1,1263.6 660,1250 697.5,1218.6 698.6,1180 702.8,1159.6 678.2,1145.7 617.1,1140.4" fill="#fff" stroke="none"/>
<path d="M591.4,1154.3 C591,1159.7 590.7,1178.8 589.3,1186.4 C587.9,1194 584.4,1193.6 583,1200 C581.6,1206.4 579.5,1216.7 580.7,1225 C581.9,1233.3 585.1,1243.3 590,1250 C594.9,1256.7 603,1262.7 610,1265 C617,1267.3 623.8,1266.1 632.1,1263.6 C640.4,1261.1 649.1,1257.5 660,1250 C670.9,1242.5 691.1,1230.3 697.5,1218.6 C703.9,1206.9 698.4,1186.4 698.6,1180" fill="none" stroke-width="2"/>
<polyline points="697.5,1218.6 698.6,1180 702.8,1159.6" fill="none" stroke-width="2"/>
<polygon points="591.4,1154.3 617.1,1140.4 678.2,1145.7 702.8,1159.6 650.3,1190.7" fill="#fff" stroke-width="2"/>
<line x1="648.8" y1="1197" x2="648.8" y2="1229.3" stroke-width="2"/>
<polygon points="662.4,1185.5 662.4,1185.5 632.8,1134.5 632.8,1134.5" fill="#fff" stroke="none"/>
<line x1="662.4" y1="1185.5" x2="662.4" y2="1185.5" stroke-width="2"/>
<line x1="632.8" y1="1134.5" x2="632.8" y2="1134.5" stroke-width="2"/>
<polygon points="618.2,1090 677.1,1090 677.1,1163 618.2,1163" fill="#fff" stroke="none"/>
<path d="M618.2,1163 A29.5,16.7 0 0 0 677.1,1163" fill="#fff" stroke="none"/>
<line x1="618.2" y1="1090" x2="618.2" y2="1163" stroke-width="2.4"/>
<line x1="677.1" y1="1090" x2="677.1" y2="1163" stroke-width="2.4"/>
<path d="M618.2,1096.6 A29.5,16.7 0 0 0 677.1,1096.6" fill="none" stroke-width="2"/>
<path d="M618.2,1104.3 A29.5,16.7 0 0 0 677.1,1104.3" fill="none" stroke-width="3.2"/>
<path d="M618.2,1110 A29.5,16.7 0 0 0 677.1,1110" fill="none" stroke-width="2"/>
<path d="M618.2,1118.5 A29.5,16.7 0 0 0 677.1,1118.5" fill="none" stroke-width="3.2"/>
<path d="M618.2,1147.1 A29.5,16.7 0 0 0 677.1,1147.1" fill="none" stroke-width="2"/>
<path d="M618.2,1151.9 A29.5,16.7 0 0 0 677.1,1151.9" fill="none" stroke-width="3.2"/>
<path d="M618.2,1156.6 A29.5,16.7 0 0 0 677.1,1156.6" fill="none" stroke-width="2"/>
<ellipse cx="647.6" cy="1090" rx="29.5" ry="16.7" fill="#fff" stroke-width="2"/>
<ellipse cx="613.5" cy="1223.4" rx="29" ry="41.5" fill="#fff" stroke-width="2" transform="rotate(-22 613.5 1223.4)"/>
<ellipse cx="612" cy="1224" rx="24" ry="36" fill="none" stroke-width="2" transform="rotate(-22 612 1224)"/>
<ellipse cx="612.8" cy="1226" rx="20" ry="28.5" fill="#fff" stroke-width="2" transform="rotate(-22 612.8 1226)"/>
<clipPath id="hb"><ellipse cx="612.8" cy="1226" rx="19" ry="27.5" transform="rotate(-22 612.8 1226)"/></clipPath><g clip-path="url(#hb)">
<line x1="588" y1="1212" x2="640" y2="1186" stroke-width="1.6"/>
<line x1="588" y1="1220" x2="640" y2="1194" stroke-width="1.6"/>
<line x1="588" y1="1228" x2="640" y2="1202" stroke-width="1.6"/>
<line x1="588" y1="1236" x2="640" y2="1210" stroke-width="1.6"/>
<line x1="588" y1="1244" x2="640" y2="1218" stroke-width="1.6"/>
<line x1="588" y1="1252" x2="640" y2="1226" stroke-width="1.6"/>
<line x1="588" y1="1260" x2="640" y2="1234" stroke-width="1.6"/>
<line x1="588" y1="1268" x2="640" y2="1242" stroke-width="1.6"/>
</g>
<path d="M580.7,1225 C581.1,1220.8 581.1,1206.8 583,1200 C584.9,1193.2 588.3,1187.3 592,1184 C595.7,1180.7 600.3,1180 605,1180 C609.7,1180 617.5,1183.3 620,1184" fill="none" stroke-width="2"/>
<path d="M626,1183 C628.3,1185 636.3,1189.7 640,1195 C643.7,1200.3 646,1208.3 648,1215 C650,1221.7 651.3,1231.7 652,1235" fill="none" stroke-width="2"/>
<polygon points="795.1,1399.3 821.4,1388.6 837.6,1388.6 855.8,1409.4 861.9,1419.5 863.9,1435.7 861.9,1456 845.7,1463.6 829.5,1468.1 821.4,1467.1 801.2,1447.9 794.1,1435.7" fill="#fff" stroke-width="2"/>
<polyline points="795.1,1399.3 821.4,1397.3 837.6,1388.6" fill="none" stroke-width="2"/>
<polyline points="821.4,1397.3 845.7,1429.6 861.9,1420.5" fill="none" stroke-width="2"/>
<line x1="845.7" y1="1429.6" x2="845.7" y2="1463.6" stroke-width="2"/>
<ellipse cx="818.6" cy="1432.3" rx="14" ry="20.5" fill="#fff" stroke-width="2" transform="rotate(-22 818.6 1432.3)"/>
<ellipse cx="822" cy="1431" rx="9" ry="17" fill="none" stroke-width="1.6" transform="rotate(-22 822 1431)"/>
<line x1="803" y1="1448" x2="821.4" y2="1431.1" stroke-width="2"/>
<ellipse cx="1438.7" cy="1037.7" rx="9" ry="19" transform="rotate(-22 1438.7 1037.7)" stroke-width="2" fill="none"/>
<ellipse cx="1452.6" cy="1029.2" rx="9" ry="19" transform="rotate(-22 1452.6 1029.2)" stroke-width="2" fill="none"/>
<ellipse cx="1466.5" cy="1021.5" rx="9" ry="19" transform="rotate(-22 1466.5 1021.5)" stroke-width="2" fill="none"/>
<ellipse cx="1481.2" cy="1013.8" rx="9" ry="19" transform="rotate(-22 1481.2 1013.8)" stroke-width="2" fill="none"/>
<ellipse cx="1495.2" cy="1006" rx="9" ry="19" transform="rotate(-22 1495.2 1006)" stroke-width="2" fill="none"/>
<path d="M1486,992 C1487.5,991.2 1491.8,987.3 1495,987 C1498.2,986.7 1502.2,987.8 1505,990 C1507.8,992.2 1510.3,996.4 1512,1000 C1513.7,1003.6 1514.8,1009.5 1515.3,1011.4" fill="none" stroke-width="2"/>
<ellipse cx="1612.9" cy="938.7" rx="12" ry="20" transform="rotate(-30.2 1612.9 938.7)" fill="#fff" stroke-width="2"/>
<polygon points="1571.1,986.2 1622.9,956 1602.8,921.4 1550.9,951.6" fill="#fff" stroke="none"/>
<line x1="1571.1" y1="986.2" x2="1622.9" y2="956" stroke-width="2"/>
<line x1="1550.9" y1="951.6" x2="1602.8" y2="921.4" stroke-width="2"/>
<ellipse cx="1561" cy="968.9" rx="12" ry="20" transform="rotate(-30.2 1561 968.9)" fill="#fff" stroke-width="2"/>
<polyline points="1581.9,979.8 1582.7,979.3 1583.3,978.6 1583.9,977.8 1584.4,977 1584.8,976.1 1585.2,975.1 1585.5,974 1585.7,972.8 1585.8,971.6 1585.8,970.4 1585.8,969.1 1585.6,967.8 1585.4,966.4 1585.1,965.1 1584.7,963.7 1584.3,962.3 1583.7,960.9 1583.1,959.5 1582.5,958.2 1581.7,956.8 1580.9,955.5 1580.1,954.3 1579.2,953.1 1578.3,951.9 1577.3,950.8 1576.2,949.8 1575.2,948.9 1574.1,948 1573,947.3 1572,946.6 1570.9,946 1569.8,945.5 1568.7,945.1 1567.6,944.8 1566.6,944.6 1565.5,944.6 1564.5,944.6 1563.6,944.7 1562.7,945 1561.8,945.3" fill="none" stroke-width="2"/>
<polyline points="1590.6,974.8 1591.3,974.2 1592,973.6 1592.5,972.8 1593,972 1593.5,971 1593.8,970 1594.1,969 1594.3,967.8 1594.4,966.6 1594.5,965.4 1594.4,964.1 1594.3,962.8 1594.1,961.4 1593.8,960 1593.4,958.6 1592.9,957.3 1592.4,955.9 1591.8,954.5 1591.1,953.1 1590.4,951.8 1589.6,950.5 1588.7,949.2 1587.8,948 1586.9,946.9 1585.9,945.8 1584.9,944.8 1583.8,943.9 1582.8,943 1581.7,942.2 1580.6,941.5 1579.5,941 1578.4,940.5 1577.3,940.1 1576.2,939.8 1575.2,939.6 1574.2,939.5 1573.2,939.6 1572.2,939.7 1571.3,939.9 1570.5,940.3" fill="none" stroke-width="2"/>
<polyline points="1599.2,969.8 1599.9,969.2 1600.6,968.5 1601.2,967.8 1601.7,966.9 1602.1,966 1602.5,965 1602.8,963.9 1603,962.8 1603.1,961.6 1603.1,960.3 1603.1,959.1 1602.9,957.7 1602.7,956.4 1602.4,955 1602,953.6 1601.6,952.2 1601,950.8 1600.4,949.5 1599.8,948.1 1599,946.8 1598.2,945.5 1597.4,944.2 1596.5,943 1595.5,941.9 1594.6,940.8 1593.5,939.8 1592.5,938.8 1591.4,938 1590.3,937.2 1589.2,936.5 1588.1,935.9 1587,935.4 1586,935 1584.9,934.8 1583.8,934.6 1582.8,934.5 1581.8,934.5 1580.9,934.7 1580,934.9 1579.1,935.2" fill="none" stroke-width="2"/>
<polyline points="1607.9,964.7 1608.6,964.2 1609.2,963.5 1609.8,962.7 1610.3,961.9 1610.8,961 1611.1,960 1611.4,958.9 1611.6,957.8 1611.7,956.6 1611.7,955.3 1611.7,954 1611.6,952.7 1611.3,951.3 1611,950 1610.7,948.6 1610.2,947.2 1609.7,945.8 1609.1,944.4 1608.4,943.1 1607.7,941.7 1606.9,940.4 1606,939.2 1605.1,938 1604.2,936.8 1603.2,935.8 1602.2,934.7 1601.1,933.8 1600.1,932.9 1599,932.2 1597.9,931.5 1596.8,930.9 1595.7,930.4 1594.6,930 1593.5,929.7 1592.5,929.5 1591.5,929.5 1590.5,929.5 1589.5,929.6 1588.6,929.9 1587.8,930.2" fill="none" stroke-width="2"/>
<polyline points="1615.6,960.2 1616.4,959.6 1617,959 1617.6,958.2 1618.1,957.4 1618.5,956.4 1618.9,955.4 1619.2,954.4 1619.4,953.2 1619.5,952 1619.5,950.8 1619.5,949.5 1619.3,948.2 1619.1,946.8 1618.8,945.4 1618.4,944.1 1618,942.7 1617.5,941.3 1616.9,939.9 1616.2,938.5 1615.4,937.2 1614.7,935.9 1613.8,934.7 1612.9,933.5 1612,932.3 1611,931.2 1610,930.2 1608.9,929.3 1607.8,928.4 1606.8,927.6 1605.7,927 1604.6,926.4 1603.5,925.9 1602.4,925.5 1601.3,925.2 1600.3,925 1599.2,924.9 1598.3,925 1597.3,925.1 1596.4,925.3 1595.5,925.7" fill="none" stroke-width="2"/>
<polygon points="267.1,372.3 279.1,363.4 279.1,387.5 267.1,393.8" fill="#000" stroke="none"/>
<polygon points="267.1,393.8 279.1,387.5 374.5,441.5 362.1,447.9" fill="#000" stroke="none"/>
<polygon points="362.1,447.9 374.5,441.5 374.5,494.5 362.1,500" fill="#000" stroke="none"/>
<polygon points="268.4,444.6 280,453.6 280,463 267.1,467.9" fill="#000" stroke="none"/>
<polygon points="239.3,403.6 267.1,372.3 267.1,393.8 362.1,447.9 362.1,500 268.4,444.6 267.1,467.9" fill="#fff" stroke-width="2"/>
<g fill="#000" stroke="#000" stroke-width="1.3" font-family="Liberation Sans" font-weight="bold" font-size="46">
<text x="0" y="0" transform="translate(256.5,429.5) matrix(1,0.58,0,1,0,0) scale(0.42,1)" text-anchor="start">F</text>
<text x="0" y="0" transform="translate(278.5,447.3) matrix(1,0.58,0,1,0,0) scale(0.42,1)" text-anchor="start">R</text>
<text x="0" y="0" transform="translate(299.5,458.9) matrix(1,0.58,0,1,0,0) scale(0.4,1)" text-anchor="start">O</text>
<text x="0" y="0" transform="translate(322.5,473.2) matrix(1,0.58,0,1,0,0) scale(0.42,1)" text-anchor="start">N</text>
<text x="0" y="0" transform="translate(345.5,484) matrix(1,0.58,0,1,0,0) scale(0.42,1)" text-anchor="start">T</text>
</g>
<ellipse cx="1137.6" cy="853" rx="31" ry="19.5" fill="#fff" stroke-width="2"/>
<ellipse cx="1137.6" cy="851" rx="31" ry="19.5" fill="#fff" stroke-width="2"/>
<ellipse cx="1136.7" cy="850.5" rx="25.5" ry="13" fill="none" stroke-width="2"/>
<ellipse cx="1136.7" cy="852.5" rx="27.5" ry="15.5" fill="none" stroke-width="1.5"/>
<circle cx="1159" cy="838" r="3.5" fill="#000" stroke="none"/>
<ellipse cx="1138.1" cy="950" rx="53.5" ry="32.5" fill="#fff" stroke-width="2"/>
<ellipse cx="1138.1" cy="947" rx="53.5" ry="32.5" fill="#fff" stroke-width="2"/>
<ellipse cx="1137.6" cy="945" rx="36.5" ry="20.5" fill="none" stroke-width="2"/>
<circle cx="1361.2" cy="1085" r="14.5" fill="#fff" stroke-width="2"/>
<polygon points="745,2146.8 778.2,2127.5 813.6,2117.9 841.4,2135 840.4,2157.5 813.6,2176.8 803.9,2176.3" fill="#fff" stroke-width="2"/>
<polyline points="778.2,2127.5 816.3,2148.4 841.4,2135" fill="none" stroke-width="2"/>
<line x1="816.3" y1="2148.4" x2="813.6" y2="2176.8" stroke-width="2"/>
<polygon points="690.4,2054.6 691.4,2045 698.9,2024.6 712.9,2018.2 727.9,2008.6 730,2011 747.1,2009.1 754,2010.7 755.7,2017.1 768.6,2017.7 776.1,2024.6 776.1,2034 787.9,2037 795.9,2047.1 790,2050.3 794.3,2061.1 805.5,2064.3 809.3,2073.9 802.9,2079.3 804.5,2088.9 814.1,2093.8 814.6,2102.9 808.2,2106.1 809.3,2116.8 800,2118 790,2120 770,2126 766,2140 745,2146.8 705,2118" fill="#fff" stroke-width="2"/>
<path d="M725.7,2018.8 C728.9,2020 738.8,2022.5 745,2026 C751.2,2029.5 758,2034.8 763.2,2039.6 C768.4,2044.4 772.2,2049.3 776,2055 C779.8,2060.7 783,2067.2 785.7,2073.9 C788.4,2080.6 790.2,2088.6 792,2095 C793.8,2101.4 795.7,2109.6 796.4,2112.5" fill="none" stroke-width="2"/>
<line x1="772" y1="2118" x2="789" y2="2115" stroke-width="2"/>
<line x1="795" y1="2118" x2="806" y2="2124" stroke-width="2"/>
<ellipse cx="716" cy="2102" rx="30.5" ry="52.6" transform="rotate(-30.2 716 2102)" fill="#fff" stroke-width="2"/>
<ellipse cx="718.6" cy="2100.5" rx="29" ry="50" transform="rotate(-30.2 718.6 2100.5)" fill="none" stroke-width="2"/>
<path d="M698.9,2050.4 C701.1,2049.7 707.4,2046.4 712,2046 C716.6,2045.6 721.3,2045.9 726.8,2048.2 C732.3,2050.5 739.8,2054.7 745,2060 C750.2,2065.3 754.4,2072.2 758,2080 C761.6,2087.8 764.8,2099.7 766.4,2107.1 C768,2114.5 767.3,2121.4 767.5,2124.3" fill="none" stroke-width="2"/>
<ellipse cx="718.2" cy="2101.8" rx="18" ry="40.8" transform="rotate(-30.2 718.2 2101.8)" fill="#fff" stroke-width="2"/>
<clipPath id="rb"><ellipse cx="718.2" cy="2101.8" rx="17" ry="39.8" transform="rotate(-30.2 718.2 2101.8)"/></clipPath><g clip-path="url(#rb)">
<line x1="690" y1="2073" x2="750" y2="2041" stroke-width="1.8"/>
<line x1="690" y1="2082" x2="750" y2="2050" stroke-width="1.8"/>
<line x1="690" y1="2091" x2="750" y2="2059" stroke-width="1.8"/>
<line x1="690" y1="2100" x2="750" y2="2068" stroke-width="1.8"/>
<line x1="690" y1="2109" x2="750" y2="2077" stroke-width="1.8"/>
<line x1="690" y1="2118" x2="750" y2="2086" stroke-width="1.8"/>
<line x1="690" y1="2127" x2="750" y2="2095" stroke-width="1.8"/>
<line x1="690" y1="2136" x2="750" y2="2104" stroke-width="1.8"/>
<line x1="690" y1="2145" x2="750" y2="2113" stroke-width="1.8"/>
<line x1="690" y1="2154" x2="750" y2="2122" stroke-width="1.8"/>
</g>
<ellipse cx="631" cy="2152" rx="24" ry="38.5" transform="rotate(-30 631 2152)" stroke-width="2" fill="none"/>
<ellipse cx="631.5" cy="2152" rx="20.5" ry="35" transform="rotate(-30 631 2152)" stroke-width="1.8" fill="none"/>
<ellipse cx="590" cy="2174" rx="24" ry="38.5" transform="rotate(-30 590 2174)" stroke-width="2" fill="none"/>
<ellipse cx="590.5" cy="2174" rx="20.5" ry="35" transform="rotate(-30 590 2174)" stroke-width="1.8" fill="none"/>
<ellipse cx="1537.5" cy="2114.7" rx="74.8" ry="93.5" transform="rotate(-30.2 1537.5 2114.7)" fill="#fff" stroke-width="2"/>
<ellipse cx="1532.1" cy="2115.7" rx="67.5" ry="91.6" transform="rotate(-30.2 1532.1 2115.7)" fill="#fff" stroke-width="2"/>
<ellipse cx="1526.7" cy="2116.7" rx="60.4" ry="89.7" transform="rotate(-30.2 1526.7 2116.7)" fill="#fff" stroke-width="2"/>
<ellipse cx="1521.2" cy="2117.7" rx="53.5" ry="87.8" transform="rotate(-30.2 1521.2 2117.7)" fill="#fff" stroke-width="2"/>
<ellipse cx="1515.8" cy="2118.6" rx="46.9" ry="85.8" transform="rotate(-30.2 1515.8 2118.6)" fill="#fff" stroke-width="2"/>
<ellipse cx="1510.4" cy="2119.6" rx="40.6" ry="83.9" transform="rotate(-30.2 1510.4 2119.6)" fill="#fff" stroke-width="2"/>
<ellipse cx="1505" cy="2120.6" rx="34.4" ry="82" transform="rotate(-30.2 1505 2120.6)" fill="#fff" stroke-width="2"/>
<ellipse cx="1507" cy="2121" rx="29.4" ry="70" transform="rotate(-30.2 1507 2121)" fill="#fff" stroke-width="2"/>
<clipPath id="spc"><ellipse cx="1507" cy="2121" rx="29.4" ry="70" transform="rotate(-30.2 1507 2121)"/></clipPath><g clip-path="url(#spc)">
<ellipse cx="1519.1" cy="2114" rx="33" ry="66" transform="rotate(-30.2 1519.1 2114)" fill="none" stroke-width="2"/>
<ellipse cx="1527.7" cy="2108.9" rx="35.2" ry="64" transform="rotate(-30.2 1527.7 2108.9)" fill="none" stroke-width="2"/>
<ellipse cx="1536.4" cy="2103.9" rx="37.2" ry="62" transform="rotate(-30.2 1536.4 2103.9)" fill="none" stroke-width="2"/>
</g>
<polyline points="1447.7,2231.2 1391.4,2266" fill="none" stroke-width="2"/>
<path d="M1473.8,2048.8 C1471.5,2050 1463.8,2052.8 1460,2056 C1456.2,2059.2 1453,2064 1451,2068 C1449,2072 1448.5,2074.7 1448,2080 C1447.5,2085.3 1447.8,2096.7 1447.7,2100 L1447.7,2231.2" fill="none" stroke-width="2"/>
<path d="M1480,2062.5 C1478.3,2062.9 1472.8,2063.1 1470,2065 C1467.2,2066.9 1465,2070.5 1463.5,2074 C1462,2077.5 1461.5,2081.7 1461,2086 C1460.5,2090.3 1460.8,2097.7 1460.8,2100 L1460.8,2231.2 Q1460.8,2240 1454.3,2243 L1399.3,2274.4" fill="none" stroke-width="2"/>
<ellipse cx="1394" cy="2270.5" rx="4.5" ry="6.5" fill="#fff" stroke-width="2" transform="rotate(-30 1394 2270.5)"/>
<path d="M1500,2131 C1498.3,2129.5 1494.3,2123.8 1490,2122 C1485.7,2120.2 1478.8,2119.2 1474,2120 C1469.2,2120.8 1463.3,2123.7 1461,2127 C1458.7,2130.3 1458.8,2135.8 1460,2140 C1461.2,2144.2 1464.3,2150.3 1468,2152 C1471.7,2153.7 1477.2,2151.8 1482,2150 C1486.8,2148.2 1494.5,2142.5 1497,2141" fill="#fff" stroke-width="2"/>
<path d="M1472,2136 C1473.3,2135.3 1476.3,2131.7 1480,2132 C1483.7,2132.3 1491.7,2137 1494,2138" fill="none" stroke-width="1.6"/>
<ellipse cx="1498" cy="2139" rx="5" ry="7" fill="#fff" stroke-width="2" transform="rotate(-30 1498 2139)"/>
<ellipse cx="1722.1" cy="2006.6" rx="35.9" ry="63" transform="rotate(-30.2 1722.1 2006.6)" fill="#fff" stroke-width="2"/>
<polygon points="1713.2,2084.6 1753.8,2061 1690.4,1952.1 1649.8,1975.8" fill="#fff" stroke="none"/>
<line x1="1713.2" y1="2084.6" x2="1753.8" y2="2061" stroke-width="2"/>
<line x1="1649.8" y1="1975.8" x2="1690.4" y2="1952.1" stroke-width="2"/>
<ellipse cx="1681.5" cy="2030.2" rx="35.9" ry="63" transform="rotate(-30.2 1681.5 2030.2)" fill="#fff" stroke-width="2"/>
<polygon points="1716,2052 1742.4,2040 1742.4,2061 1725,2066" fill="#fff" stroke-width="2"/>
<line x1="1716" y1="2052" x2="1725" y2="2066" stroke-width="2"/>
<ellipse cx="1682.8" cy="2029.5" rx="29" ry="44" transform="rotate(-30.2 1682.8 2029.5)" fill="none" stroke-width="2"/>
<path d="M1678.2,1992.9 C1680.2,1996.1 1685.5,2005.8 1690,2012 C1694.5,2018.2 1699.7,2025 1705,2030 C1710.3,2035 1719.2,2040 1722,2042" fill="none" stroke-width="2"/>
<ellipse cx="1671.7" cy="1982.4" rx="2.6" ry="4.2" fill="#fff" stroke-width="1.6" transform="rotate(-30 1671.7 1982.4)"/>
<ellipse cx="1644.2" cy="2008" rx="2.6" ry="4.2" fill="#fff" stroke-width="1.6" transform="rotate(-30 1644.2 2008)"/>
<ellipse cx="1714.9" cy="2026.9" rx="2.6" ry="4.2" fill="#fff" stroke-width="1.6" transform="rotate(-30 1714.9 2026.9)"/>
<ellipse cx="1671.7" cy="2066.2" rx="2.6" ry="4.2" fill="#fff" stroke-width="1.6" transform="rotate(-30 1671.7 2066.2)"/>
<ellipse cx="1714.9" cy="2071.4" rx="2.6" ry="4.2" fill="#fff" stroke-width="1.6" transform="rotate(-30 1714.9 2071.4)"/>
<polyline points="1699.9,2080.3 1701.2,2080.2 1702.4,2080.1 1703.6,2079.8 1704.8,2079.6 1705.9,2079.2 1707.1,2078.8 1708.1,2078.3 1709.2,2077.7 1710.2,2077.1 1711.1,2076.4 1712,2075.7 1712.9,2074.8 1713.7,2074 1714.5,2073 1715.2,2072 1715.9,2071 1716.6,2069.8 1717.2,2068.7 1717.7,2067.4 1718.2,2066.1 1718.6,2064.8 1719,2063.4 1719.4,2062 1719.6,2060.5 1719.9,2059 1720,2057.5 1720.1,2055.9 1720.2,2054.2 1720.2,2052.6 1720.2,2050.9 1720.1,2049.1 1719.9,2047.4 1719.7,2045.6 1719.5,2043.8 1719.1,2042 1718.8,2040.2 1718.3,2038.3 1717.9,2036.5 1717.4,2034.6 1716.8,2032.7" fill="none" stroke-width="2"/>
<polygon points="1258.1,2173 1253,2146.9 1232.8,2129.6 1217.8,2138.3 1222.9,2164.4 1243.1,2181.7" fill="#fff" stroke-width="2"/>
<polygon points="1207.3,2173.5 1227.5,2190.8 1243.1,2181.7 1222.9,2164.4" fill="#fff" stroke-width="2"/>
<polygon points="1202.2,2147.4 1207.3,2173.5 1222.9,2164.4 1217.8,2138.3" fill="#fff" stroke-width="2"/>
<polygon points="1227.5,2190.8 1242.5,2182 1258.1,2173 1243.1,2181.7" fill="#fff" stroke-width="2"/>
<polygon points="1217.3,2138.6 1202.2,2147.4 1217.8,2138.3 1232.8,2129.6" fill="#fff" stroke-width="2"/>
<polygon points="1242.5,2182 1237.4,2156 1253,2146.9 1258.1,2173" fill="#fff" stroke-width="2"/>
<polygon points="1237.4,2156 1217.3,2138.6 1232.8,2129.6 1253,2146.9" fill="#fff" stroke-width="2"/>
<polygon points="1242.5,2182 1237.4,2156 1217.3,2138.6 1202.2,2147.4 1207.3,2173.5 1227.5,2190.8" fill="#fff" stroke-width="2"/>
<ellipse cx="1222.4" cy="2164.7" rx="8.4" ry="14" transform="rotate(-30.2 1222.4 2164.7)" fill="#fff" stroke-width="2"/>
<polygon points="1175.8,2208 1229.4,2176.8 1215.3,2152.6 1161.8,2183.8" fill="#fff" stroke="none"/>
<line x1="1175.8" y1="2208" x2="1229.4" y2="2176.8" stroke-width="2"/>
<line x1="1161.8" y1="2183.8" x2="1215.3" y2="2152.6" stroke-width="2"/>
<ellipse cx="1168.8" cy="2195.9" rx="8.4" ry="14" transform="rotate(-30.2 1168.8 2195.9)" fill="#fff" stroke-width="2"/>
<polyline points="1183.4,2203.5 1183.9,2203.1 1184.3,2202.6 1184.7,2202 1185,2201.4 1185.3,2200.8 1185.5,2200.1 1185.7,2199.3 1185.8,2198.5 1185.8,2197.7 1185.8,2196.9 1185.8,2196 1185.7,2195.1 1185.5,2194.2 1185.3,2193.2 1185,2192.3 1184.7,2191.3 1184.3,2190.4 1183.9,2189.5 1183.5,2188.6 1183,2187.7 1182.4,2186.8 1181.9,2185.9 1181.3,2185.1 1180.6,2184.3 1180,2183.6 1179.3,2182.9 1178.6,2182.2 1177.8,2181.6 1177.1,2181.1 1176.4,2180.6 1175.6,2180.2 1174.9,2179.8 1174.1,2179.6 1173.4,2179.3 1172.7,2179.2 1172,2179.1 1171.3,2179.1 1170.7,2179.1 1170,2179.2 1169.4,2179.4" fill="none" stroke-width="1.6"/>
<polyline points="1188.6,2200.5 1189.1,2200 1189.5,2199.6 1189.9,2199 1190.2,2198.4 1190.5,2197.8 1190.7,2197.1 1190.8,2196.3 1191,2195.5 1191,2194.7 1191,2193.8 1191,2193 1190.8,2192.1 1190.7,2191.1 1190.5,2190.2 1190.2,2189.3 1189.9,2188.3 1189.5,2187.4 1189.1,2186.5 1188.7,2185.5 1188.2,2184.6 1187.6,2183.8 1187,2182.9 1186.4,2182.1 1185.8,2181.3 1185.1,2180.6 1184.5,2179.9 1183.8,2179.2 1183,2178.6 1182.3,2178.1 1181.6,2177.6 1180.8,2177.2 1180.1,2176.8 1179.3,2176.5 1178.6,2176.3 1177.9,2176.2 1177.2,2176.1 1176.5,2176 1175.8,2176.1 1175.2,2176.2 1174.6,2176.4" fill="none" stroke-width="1.6"/>
<polyline points="1193.8,2197.5 1194.3,2197 1194.7,2196.5 1195.1,2196 1195.4,2195.4 1195.6,2194.7 1195.9,2194 1196,2193.3 1196.1,2192.5 1196.2,2191.7 1196.2,2190.8 1196.1,2189.9 1196,2189 1195.9,2188.1 1195.7,2187.2 1195.4,2186.2 1195.1,2185.3 1194.7,2184.4 1194.3,2183.4 1193.8,2182.5 1193.3,2181.6 1192.8,2180.7 1192.2,2179.9 1191.6,2179.1 1191,2178.3 1190.3,2177.5 1189.6,2176.9 1188.9,2176.2 1188.2,2175.6 1187.5,2175.1 1186.7,2174.6 1186,2174.2 1185.3,2173.8 1184.5,2173.5 1183.8,2173.3 1183.1,2173.1 1182.4,2173 1181.7,2173 1181,2173.1 1180.4,2173.2 1179.8,2173.4" fill="none" stroke-width="1.6"/>
<polyline points="1199,2194.4 1199.5,2194 1199.9,2193.5 1200.2,2193 1200.6,2192.4 1200.8,2191.7 1201,2191 1201.2,2190.3 1201.3,2189.5 1201.4,2188.7 1201.4,2187.8 1201.3,2186.9 1201.2,2186 1201.1,2185.1 1200.8,2184.2 1200.6,2183.2 1200.3,2182.3 1199.9,2181.3 1199.5,2180.4 1199,2179.5 1198.5,2178.6 1198,2177.7 1197.4,2176.9 1196.8,2176.1 1196.2,2175.3 1195.5,2174.5 1194.8,2173.8 1194.1,2173.2 1193.4,2172.6 1192.7,2172.1 1191.9,2171.6 1191.2,2171.1 1190.4,2170.8 1189.7,2170.5 1189,2170.3 1188.3,2170.1 1187.6,2170 1186.9,2170 1186.2,2170.1 1185.6,2170.2 1185,2170.4" fill="none" stroke-width="1.6"/>
<polyline points="1204.2,2191.4 1204.6,2191 1205.1,2190.5 1205.4,2190 1205.7,2189.4 1206,2188.7 1206.2,2188 1206.4,2187.3 1206.5,2186.5 1206.6,2185.6 1206.6,2184.8 1206.5,2183.9 1206.4,2183 1206.2,2182.1 1206,2181.2 1205.8,2180.2 1205.4,2179.3 1205.1,2178.3 1204.7,2177.4 1204.2,2176.5 1203.7,2175.6 1203.2,2174.7 1202.6,2173.9 1202,2173 1201.4,2172.3 1200.7,2171.5 1200,2170.8 1199.3,2170.2 1198.6,2169.6 1197.9,2169 1197.1,2168.6 1196.4,2168.1 1195.6,2167.8 1194.9,2167.5 1194.2,2167.3 1193.4,2167.1 1192.7,2167 1192.1,2167 1191.4,2167 1190.8,2167.2 1190.2,2167.3" fill="none" stroke-width="1.6"/>
<polyline points="1209.4,2188.4 1209.8,2188 1210.2,2187.5 1210.6,2186.9 1210.9,2186.3 1211.2,2185.7 1211.4,2185 1211.6,2184.2 1211.7,2183.4 1211.7,2182.6 1211.8,2181.8 1211.7,2180.9 1211.6,2180 1211.4,2179.1 1211.2,2178.1 1210.9,2177.2 1210.6,2176.2 1210.3,2175.3 1209.9,2174.4 1209.4,2173.5 1208.9,2172.6 1208.4,2171.7 1207.8,2170.8 1207.2,2170 1206.5,2169.2 1205.9,2168.5 1205.2,2167.8 1204.5,2167.2 1203.8,2166.6 1203,2166 1202.3,2165.5 1201.6,2165.1 1200.8,2164.8 1200.1,2164.5 1199.3,2164.2 1198.6,2164.1 1197.9,2164 1197.2,2164 1196.6,2164 1196,2164.1 1195.4,2164.3" fill="none" stroke-width="1.6"/>
<polyline points="1214.6,2185.4 1215,2185 1215.4,2184.5 1215.8,2183.9 1216.1,2183.3 1216.4,2182.7 1216.6,2182 1216.8,2181.2 1216.9,2180.4 1216.9,2179.6 1216.9,2178.8 1216.9,2177.9 1216.8,2177 1216.6,2176 1216.4,2175.1 1216.1,2174.2 1215.8,2173.2 1215.5,2172.3 1215,2171.4 1214.6,2170.4 1214.1,2169.5 1213.6,2168.7 1213,2167.8 1212.4,2167 1211.7,2166.2 1211.1,2165.5 1210.4,2164.8 1209.7,2164.1 1209,2163.5 1208.2,2163 1207.5,2162.5 1206.7,2162.1 1206,2161.7 1205.3,2161.4 1204.5,2161.2 1203.8,2161.1 1203.1,2161 1202.4,2161 1201.8,2161 1201.1,2161.1 1200.5,2161.3" fill="none" stroke-width="1.6"/>
<polyline points="1219.7,2182.4 1220.2,2181.9 1220.6,2181.4 1221,2180.9 1221.3,2180.3 1221.6,2179.6 1221.8,2178.9 1222,2178.2 1222.1,2177.4 1222.1,2176.6 1222.1,2175.7 1222.1,2174.9 1222,2173.9 1221.8,2173 1221.6,2172.1 1221.3,2171.2 1221,2170.2 1220.6,2169.3 1220.2,2168.3 1219.8,2167.4 1219.3,2166.5 1218.7,2165.6 1218.2,2164.8 1217.6,2164 1216.9,2163.2 1216.3,2162.5 1215.6,2161.8 1214.9,2161.1 1214.1,2160.5 1213.4,2160 1212.7,2159.5 1211.9,2159.1 1211.2,2158.7 1210.4,2158.4 1209.7,2158.2 1209,2158 1208.3,2158 1207.6,2157.9 1207,2158 1206.3,2158.1 1205.7,2158.3" fill="none" stroke-width="1.6"/>
<polyline points="1224.9,2179.3 1225.4,2178.9 1225.8,2178.4 1226.2,2177.9 1226.5,2177.3 1226.8,2176.6 1227,2175.9 1227.1,2175.2 1227.3,2174.4 1227.3,2173.6 1227.3,2172.7 1227.3,2171.8 1227.1,2170.9 1227,2170 1226.8,2169.1 1226.5,2168.1 1226.2,2167.2 1225.8,2166.3 1225.4,2165.3 1225,2164.4 1224.5,2163.5 1223.9,2162.6 1223.3,2161.8 1222.7,2161 1222.1,2160.2 1221.4,2159.4 1220.8,2158.7 1220.1,2158.1 1219.3,2157.5 1218.6,2157 1217.9,2156.5 1217.1,2156.1 1216.4,2155.7 1215.6,2155.4 1214.9,2155.2 1214.2,2155 1213.5,2154.9 1212.8,2154.9 1212.1,2155 1211.5,2155.1 1210.9,2155.3" fill="none" stroke-width="1.6"/>
<path d="M997.1,2300.8 C999.1,2290.6 1002.4,2269.3 1009.3,2259.3 C1016.2,2249.3 1030,2244.7 1038.6,2241 C1047.1,2237.3 1052.5,2237.2 1060.6,2237.4 C1068.7,2237.6 1081.7,2240.3 1087.4,2242.3 C1093.1,2244.3 1094.4,2243.1 1094.8,2249.6 C1095.2,2256.1 1092.4,2274.8 1089.9,2281.3 C1087.5,2287.8 1083.3,2287.8 1080.1,2288.6 C1076.8,2289.4 1075.3,2286.6 1070.4,2286.2 C1065.5,2285.8 1056.1,2285 1050.8,2286.2 C1045.5,2287.4 1041.8,2289.8 1038.6,2293.5 C1035.3,2297.2 1033.3,2302.9 1031.3,2308.2 C1029.3,2313.5 1027.2,2319.9 1026.4,2325.2 C1025.6,2330.5 1027.6,2336.6 1026.4,2339.9 C1025.2,2343.2 1022.4,2345.2 1019.1,2344.8 C1015.9,2344.4 1010.6,2341.5 1006.9,2337.4 C1003.2,2333.3 998.7,2326.5 997.1,2320.4 C995.5,2314.3 995.1,2311 997.1,2300.8 Z" fill="#fff" stroke-width="2"/>
<path d="M1013,2254 C1017.5,2252.4 1031.8,2246.5 1040,2244.5 C1048.2,2242.5 1054.5,2241.8 1062,2242 C1069.5,2242.2 1080,2244.7 1085,2246 C1090,2247.3 1090.8,2249.3 1092,2250" fill="none" stroke-width="1.6"/>
<path d="M1085,2250 C1084.8,2253.3 1084.8,2263.7 1084,2270 C1083.2,2276.3 1080.7,2285 1080,2288" fill="none" stroke-width="1.6"/>
<path d="M1042,2292 C1040.7,2294.2 1036,2300 1034,2305 C1032,2310 1030.7,2316.3 1030,2322 C1029.3,2327.7 1030,2336.2 1030,2339" fill="none" stroke-width="1.6"/>
<line x1="1042.3" y1="2248.4" x2="1049.6" y2="2283.7" stroke-width="2"/>
<ellipse cx="1020.3" cy="2281.3" rx="7.5" ry="10.5" fill="#fff" stroke-width="2" transform="rotate(-25 1020.3 2281.3)"/>
<line x1="1017.3" y1="2274.3" x2="1025.3" y2="2287.3" stroke-width="1.6"/>
<ellipse cx="1013" cy="2324" rx="7.5" ry="10.5" fill="#fff" stroke-width="2" transform="rotate(-25 1013 2324)"/>
<line x1="1010" y1="2317" x2="1018" y2="2330" stroke-width="1.6"/>
<path d="M920.3,2315.5 C918.3,2322 913.5,2339.8 912.9,2349.6 C912.3,2359.3 913.3,2366.9 916.6,2374 C919.9,2381.1 927.2,2390.4 932.5,2392.4 C937.8,2394.4 945.2,2393.3 948.3,2386.2 C951.3,2379.1 950,2356.9 950.8,2349.6 C951.6,2342.3 955,2345.6 953.2,2342.3 C951.4,2339 944.7,2335.3 940,2330 C935.3,2324.7 928.4,2313 925.1,2310.6 C921.8,2308.2 922.3,2309 920.3,2315.5 Z" fill="#fff" stroke-width="2"/>
<line x1="950.8" y1="2358" x2="953" y2="2345" stroke-width="1.6"/>
<polygon points="927.6,2310 937,2303.3 953.2,2302 966.6,2335 956,2342.3 944,2346" fill="#fff" stroke-width="2"/>
<line x1="927.6" y1="2310" x2="944" y2="2346" stroke-width="2"/>
<line x1="944" y1="2346" x2="956" y2="2342.3" stroke-width="2"/>
<ellipse cx="928.8" cy="2374" rx="6.5" ry="9.5" fill="#fff" stroke-width="2" transform="rotate(-25 928.8 2374)"/>
<line x1="926" y1="2367" x2="933" y2="2381" stroke-width="1.6"/>
<path d="M928,2323 C927.2,2324.5 923.3,2329 923,2332 C922.7,2335 924.2,2339 926,2341 C927.8,2343 932.7,2343.5 934,2344" fill="none" stroke-width="1.6"/>
<polyline points="1805.6,1473.5 1878.3,1431 1842.7,1488" fill="none" stroke-width="2"/>
<polyline points="1502.7,2139.5 1370.5,2210.3 1405.8,2155.2" fill="none" stroke-width="2"/>
<polyline points="713.1,1166.5 752.8,1145.3 752.8,1471.1 821.4,1431.1" fill="none" stroke-width="2"/>
<line x1="1165.5" y1="2197.1" x2="1097.2" y2="2237.4" stroke-width="2"/>
<g fill="#000" stroke="none" font-family="Liberation Sans" font-weight="bold" text-anchor="middle">
<path d="M721.7,557.6 L726.3,557.6 L726.3,532.9 L721.1,532.9 L716,537.5 L716,541.3 L721.7,538.5 Z" fill="#000" stroke="none"/>
<text x="0" y="0" transform="translate(746,557.1) scale(0.9,1)" font-size="35.5">3</text>
<text x="0" y="0" transform="translate(767.8,557.1) scale(0.9,1)" font-size="35.5">0</text>
<text x="0" y="0" transform="translate(789.5,557.1) scale(0.9,1)" font-size="35.5">6</text>
<text x="0" y="0" transform="translate(811.3,557.1) scale(0.9,1)" font-size="35.5">4</text>
<text x="0" y="0" transform="translate(476.2,921.7) scale(0.9,1)" font-size="35.5">9</text>
<text x="0" y="0" transform="translate(497.8,921.7) scale(0.9,1)" font-size="35.5">2</text>
<text x="0" y="0" transform="translate(519.4,921.7) scale(0.9,1)" font-size="35.5">0</text>
<text x="0" y="0" transform="translate(541,921.7) scale(0.9,1)" font-size="35.5">5</text>
<text x="0" y="0" transform="translate(562.5,921.7) scale(0.9,1)" font-size="35.5">5</text>
<text x="0" y="0" transform="translate(474.7,1010) scale(0.9,1)" font-size="35.5">9</text>
<text x="0" y="0" transform="translate(496.3,1010) scale(0.9,1)" font-size="35.5">2</text>
<text x="0" y="0" transform="translate(518,1010) scale(0.9,1)" font-size="35.5">0</text>
<text x="0" y="0" transform="translate(539.6,1010) scale(0.9,1)" font-size="35.5">5</text>
<text x="0" y="0" transform="translate(561.3,1010) scale(0.9,1)" font-size="35.5">5</text>
<text x="0" y="0" transform="translate(1005.8,865.9) scale(0.9,1)" font-size="35.5">4</text>
<text x="0" y="0" transform="translate(1027.8,865.9) scale(0.9,1)" font-size="35.5">8</text>
<text x="0" y="0" transform="translate(1049.8,865.9) scale(0.9,1)" font-size="35.5">0</text>
<text x="0" y="0" transform="translate(916.5,961.4) scale(0.9,1)" font-size="35.5">9</text>
<text x="0" y="0" transform="translate(938.5,961.4) scale(0.9,1)" font-size="35.5">2</text>
<text x="0" y="0" transform="translate(960.5,961.4) scale(0.9,1)" font-size="35.5">0</text>
<text x="0" y="0" transform="translate(982.5,961.4) scale(0.9,1)" font-size="35.5">2</text>
<text x="0" y="0" transform="translate(1004.5,961.4) scale(0.9,1)" font-size="35.5">2</text>
<text x="0" y="0" transform="translate(1026.5,961.4) scale(0.8,1)" font-size="35.5">A</text>
<text x="0" y="0" transform="translate(1421.9,949) scale(0.9,1)" font-size="35.5">9</text>
<text x="0" y="0" transform="translate(1443.8,949) scale(0.9,1)" font-size="35.5">2</text>
<text x="0" y="0" transform="translate(1465.7,949) scale(0.9,1)" font-size="35.5">0</text>
<text x="0" y="0" transform="translate(1487.5,949) scale(0.9,1)" font-size="35.5">8</text>
<path d="M1507,949.5 L1511.4,949.5 L1511.4,925.4 L1506.4,925.4 L1501.4,930 L1501.4,933.7 L1507,931 Z" fill="#000" stroke="none"/>
<text x="0" y="0" transform="translate(1579.7,1049) scale(0.9,1)" font-size="35.5">2</text>
<text x="0" y="0" transform="translate(1601.4,1049) scale(0.9,1)" font-size="35.5">9</text>
<text x="0" y="0" transform="translate(1623.1,1049) scale(0.9,1)" font-size="35.5">0</text>
<path d="M444.5,1174.7 L448.7,1174.7 L448.7,1151.6 L443.9,1151.6 L439.1,1156 L439.1,1159.5 L444.5,1156.9 Z" fill="#000" stroke="none"/>
<text x="0" y="0" transform="translate(468.8,1174.2) scale(0.9,1)" font-size="35.5">3</text>
<text x="0" y="0" transform="translate(490.8,1174.2) scale(0.9,1)" font-size="35.5">0</text>
<text x="0" y="0" transform="translate(512.8,1174.2) scale(0.9,1)" font-size="35.5">6</text>
<path d="M532.5,1174.7 L536.7,1174.7 L536.7,1151.6 L531.9,1151.6 L527.1,1156 L527.1,1159.5 L532.5,1156.9 Z" fill="#000" stroke="none"/>
<text x="0" y="0" transform="translate(1341.3,1177.8) scale(0.9,1)" font-size="35.5">6</text>
<text x="0" y="0" transform="translate(1362.3,1177.8) scale(0.9,1)" font-size="35.5">0</text>
<text x="0" y="0" transform="translate(1383.4,1177.8) scale(0.9,1)" font-size="35.5">0</text>
<text x="0" y="0" transform="translate(920.2,1436.5) scale(0.9,1)" font-size="35.5">9</text>
<text x="0" y="0" transform="translate(941.7,1436.5) scale(0.9,1)" font-size="35.5">2</text>
<text x="0" y="0" transform="translate(963.1,1436.5) scale(0.9,1)" font-size="35.5">0</text>
<path d="M982.3,1437 L986.4,1437 L986.4,1414.4 L981.7,1414.4 L977,1418.7 L977,1422.1 L982.3,1419.6 Z" fill="#000" stroke="none"/>
<text x="0" y="0" transform="translate(1006,1436.5) scale(0.9,1)" font-size="35.5">5</text>
<path d="M1533.1,1500.1 L1537.5,1500.1 L1537.5,1476.4 L1532.5,1476.4 L1527.6,1480.9 L1527.6,1484.5 L1533.1,1481.9 Z" fill="#000" stroke="none"/>
<text x="0" y="0" transform="translate(1556.8,1499.6) scale(0.9,1)" font-size="35.5">3</text>
<text x="0" y="0" transform="translate(1578,1499.6) scale(0.9,1)" font-size="35.5">0</text>
<text x="0" y="0" transform="translate(1599.2,1499.6) scale(0.9,1)" font-size="35.5">6</text>
<text x="0" y="0" transform="translate(1620.5,1499.6) scale(0.9,1)" font-size="35.5">6</text>
<text x="0" y="0" transform="translate(392.1,1584.2) scale(0.9,1)" font-size="35.5">5</text>
<text x="0" y="0" transform="translate(413.9,1584.2) scale(0.9,1)" font-size="35.5">9</text>
<text x="0" y="0" transform="translate(435.7,1584.2) scale(0.9,1)" font-size="35.5">0</text>
<text x="0" y="0" transform="translate(457.4,1584.2) scale(0.9,1)" font-size="35.5">5</text>
<path d="M476.9,1584.7 L481.1,1584.7 L481.1,1561.8 L476.4,1561.8 L471.6,1566.1 L471.6,1569.6 L476.9,1567.1 Z" fill="#000" stroke="none"/>
<text x="0" y="0" transform="translate(501,1584.2) scale(0.8,1)" font-size="35.5">A</text>
<text x="0" y="0" transform="translate(575.3,1580) scale(0.9,1)" font-size="35.5">9</text>
<text x="0" y="0" transform="translate(596.7,1580) scale(0.9,1)" font-size="35.5">2</text>
<text x="0" y="0" transform="translate(618,1580) scale(0.9,1)" font-size="35.5">0</text>
<text x="0" y="0" transform="translate(639.4,1580) scale(0.9,1)" font-size="35.5">2</text>
<text x="0" y="0" transform="translate(660.8,1580) scale(0.9,1)" font-size="35.5">2</text>
<text x="0" y="0" transform="translate(734.6,1729.1) scale(0.9,1)" font-size="35.5">4</text>
<text x="0" y="0" transform="translate(756.5,1729.1) scale(0.9,1)" font-size="35.5">8</text>
<text x="0" y="0" transform="translate(778.3,1729.1) scale(0.9,1)" font-size="35.5">0</text>
<text x="0" y="0" transform="translate(1073.9,1650.4) scale(0.9,1)" font-size="35.5">5</text>
<text x="0" y="0" transform="translate(1096.4,1650.4) scale(0.9,1)" font-size="35.5">9</text>
<text x="0" y="0" transform="translate(1118.9,1650.4) scale(0.9,1)" font-size="35.5">0</text>
<text x="0" y="0" transform="translate(1141.4,1650.4) scale(0.9,1)" font-size="35.5">5</text>
<path d="M1161.6,1650.9 L1165.8,1650.9 L1165.8,1627.5 L1161,1627.5 L1156.1,1631.9 L1156.1,1635.5 L1161.6,1632.9 Z" fill="#000" stroke="none"/>
<text x="0" y="0" transform="translate(1259.4,1651) scale(0.9,1)" font-size="35.5">9</text>
<text x="0" y="0" transform="translate(1281.5,1651) scale(0.9,1)" font-size="35.5">2</text>
<text x="0" y="0" transform="translate(1303.6,1651) scale(0.9,1)" font-size="35.5">0</text>
<text x="0" y="0" transform="translate(1325.6,1651) scale(0.9,1)" font-size="35.5">2</text>
<text x="0" y="0" transform="translate(1347.7,1651) scale(0.9,1)" font-size="35.5">2</text>
<text x="0" y="0" transform="translate(1369.8,1651) scale(0.8,1)" font-size="35.5">C</text>
<text x="0" y="0" transform="translate(278,2005.3) scale(0.9,1)" font-size="35.5">9</text>
<text x="0" y="0" transform="translate(299.4,2005.3) scale(0.9,1)" font-size="35.5">2</text>
<text x="0" y="0" transform="translate(320.7,2005.3) scale(0.9,1)" font-size="35.5">0</text>
<text x="0" y="0" transform="translate(342.1,2005.3) scale(0.9,1)" font-size="35.5">2</text>
<text x="0" y="0" transform="translate(363.4,2005.3) scale(0.9,1)" font-size="35.5">2</text>
<text x="0" y="0" transform="translate(1772.1,1838.1) scale(0.9,1)" font-size="35.5">9</text>
<text x="0" y="0" transform="translate(1794,1838.1) scale(0.9,1)" font-size="35.5">2</text>
<text x="0" y="0" transform="translate(1815.9,1838.1) scale(0.9,1)" font-size="35.5">0</text>
<text x="0" y="0" transform="translate(1837.7,1838.1) scale(0.9,1)" font-size="35.5">2</text>
<text x="0" y="0" transform="translate(1859.6,1838.1) scale(0.9,1)" font-size="35.5">2</text>
<text x="0" y="0" transform="translate(1881.5,1838.1) scale(0.8,1)" font-size="35.5">C</text>
<path d="M1641.7,1898.5 L1646.1,1898.5 L1646.1,1874.5 L1641.1,1874.5 L1636.1,1879 L1636.1,1882.7 L1641.7,1880 Z" fill="#000" stroke="none"/>
<text x="0" y="0" transform="translate(1665.9,1898) scale(0.9,1)" font-size="35.5">3</text>
<text x="0" y="0" transform="translate(1687.8,1898) scale(0.9,1)" font-size="35.5">0</text>
<text x="0" y="0" transform="translate(1709.7,1898) scale(0.9,1)" font-size="35.5">7</text>
<text x="0" y="0" transform="translate(1731.5,1898) scale(0.9,1)" font-size="35.5">0</text>
<text x="0" y="0" transform="translate(830.6,1909.2) scale(0.9,1)" font-size="35.5">4</text>
<text x="0" y="0" transform="translate(852.2,1909.2) scale(0.9,1)" font-size="35.5">8</text>
<text x="0" y="0" transform="translate(873.7,1909.2) scale(0.9,1)" font-size="35.5">0</text>
<text x="0" y="0" transform="translate(895.3,1909.2) scale(0.8,1)" font-size="35.5">B</text>
<path d="M700.9,1953 L705.1,1953 L705.1,1930.1 L700.3,1930.1 L695.6,1934.4 L695.6,1937.9 L700.9,1935.4 Z" fill="#000" stroke="none"/>
<text x="0" y="0" transform="translate(724.6,1952.5) scale(0.9,1)" font-size="35.5">3</text>
<text x="0" y="0" transform="translate(746,1952.5) scale(0.9,1)" font-size="35.5">0</text>
<text x="0" y="0" transform="translate(767.5,1952.5) scale(0.9,1)" font-size="35.5">7</text>
<text x="0" y="0" transform="translate(788.9,1952.5) scale(0.9,1)" font-size="35.5">8</text>
<text x="0" y="0" transform="translate(1465.6,1969.8) scale(0.9,1)" font-size="35.5">9</text>
<text x="0" y="0" transform="translate(1487.3,1969.8) scale(0.9,1)" font-size="35.5">2</text>
<text x="0" y="0" transform="translate(1508.9,1969.8) scale(0.9,1)" font-size="35.5">0</text>
<text x="0" y="0" transform="translate(1530.6,1969.8) scale(0.9,1)" font-size="35.5">8</text>
<path d="M1550,1970.3 L1554.1,1970.3 L1554.1,1947.7 L1549.4,1947.7 L1544.7,1952 L1544.7,1955.4 L1550,1952.9 Z" fill="#000" stroke="none"/>
<text x="0" y="0" transform="translate(1573.9,1969.8) scale(0.8,1)" font-size="35.5">B</text>
<text x="0" y="0" transform="translate(931.8,2100.9) scale(0.9,1)" font-size="35.5">9</text>
<text x="0" y="0" transform="translate(953.6,2100.9) scale(0.9,1)" font-size="35.5">2</text>
<text x="0" y="0" transform="translate(975.3,2100.9) scale(0.9,1)" font-size="35.5">0</text>
<text x="0" y="0" transform="translate(997.1,2100.9) scale(0.9,1)" font-size="35.5">2</text>
<text x="0" y="0" transform="translate(1018.8,2100.9) scale(0.9,1)" font-size="35.5">2</text>
<text x="0" y="0" transform="translate(1040.6,2100.9) scale(0.8,1)" font-size="35.5">C</text>
<text x="0" y="0" transform="translate(525.6,2082.1) scale(0.9,1)" font-size="35.5">9</text>
<text x="0" y="0" transform="translate(547.6,2082.1) scale(0.9,1)" font-size="35.5">2</text>
<text x="0" y="0" transform="translate(569.5,2082.1) scale(0.9,1)" font-size="35.5">0</text>
<text x="0" y="0" transform="translate(591.5,2082.1) scale(0.9,1)" font-size="35.5">8</text>
<path d="M611,2082.6 L615.5,2082.6 L615.5,2057.9 L610.4,2057.9 L605.2,2062.6 L605.2,2066.4 L611,2063.6 Z" fill="#000" stroke="none"/>
<text x="0" y="0" transform="translate(635.4,2082.1) scale(0.8,1)" font-size="35.5">A</text>
<text x="0" y="0" transform="translate(378.7,2188.8) scale(0.9,1)" font-size="35.5">4</text>
<text x="0" y="0" transform="translate(401.3,2188.8) scale(0.9,1)" font-size="35.5">8</text>
<text x="0" y="0" transform="translate(423.8,2188.8) scale(0.9,1)" font-size="35.5">0</text>
<text x="0" y="0" transform="translate(446.4,2188.8) scale(0.8,1)" font-size="35.5">A</text>
<path d="M1186.6,2268.8 L1190.8,2268.8 L1190.8,2245.8 L1186,2245.8 L1181.2,2250.1 L1181.2,2253.7 L1186.6,2251.1 Z" fill="#000" stroke="none"/>
<path d="M1207.2,2268.8 L1211.4,2268.8 L1211.4,2245.8 L1206.6,2245.8 L1201.8,2250.1 L1201.8,2253.7 L1207.2,2251.1 Z" fill="#000" stroke="none"/>
<text x="0" y="0" transform="translate(1230,2268.3) scale(0.9,1)" font-size="35.5">2</text>
<text x="0" y="0" transform="translate(473,2361.7) scale(0.9,1)" font-size="35.5">9</text>
<text x="0" y="0" transform="translate(494.7,2361.7) scale(0.9,1)" font-size="35.5">2</text>
<text x="0" y="0" transform="translate(516.3,2361.7) scale(0.9,1)" font-size="35.5">0</text>
<text x="0" y="0" transform="translate(538,2361.7) scale(0.9,1)" font-size="35.5">2</text>
<text x="0" y="0" transform="translate(559.6,2361.7) scale(0.9,1)" font-size="35.5">2</text>
<text x="0" y="0" transform="translate(581.3,2361.7) scale(0.8,1)" font-size="35.5">D</text>
<path d="M971.9,2422.6 L975.9,2422.6 L975.9,2400.8 L971.4,2400.8 L966.8,2404.9 L966.8,2408.3 L971.9,2405.8 Z" fill="#000" stroke="none"/>
<text x="0" y="0" transform="translate(995.7,2422.1) scale(0.9,1)" font-size="35.5">3</text>
<text x="0" y="0" transform="translate(1017.2,2422.1) scale(0.9,1)" font-size="35.5">2</text>
<text x="0" y="0" transform="translate(1038.8,2422.1) scale(0.9,1)" font-size="35.5">0</text>
<text x="0" y="0" transform="translate(1060.4,2422.1) scale(0.9,1)" font-size="35.5">6</text>
<text x="0" y="0" transform="translate(288.3,2448.1) scale(0.9,1)" font-size="35.5">9</text>
<text x="0" y="0" transform="translate(310,2448.1) scale(0.9,1)" font-size="35.5">2</text>
<text x="0" y="0" transform="translate(331.7,2448.1) scale(0.9,1)" font-size="35.5">0</text>
<text x="0" y="0" transform="translate(353.3,2448.1) scale(0.9,1)" font-size="35.5">2</text>
<text x="0" y="0" transform="translate(375,2448.1) scale(0.9,1)" font-size="35.5">2</text>
<text x="0" y="0" transform="translate(396.7,2448.1) scale(0.8,1)" font-size="35.5">B</text>
<text x="0" y="0" transform="translate(891.1,2473.3) scale(0.9,1)" font-size="35.5">3</text>
<text x="0" y="0" transform="translate(912.4,2473.3) scale(0.9,1)" font-size="35.5">2</text>
<text x="0" y="0" transform="translate(933.7,2473.3) scale(0.9,1)" font-size="35.5">0</text>
<text x="0" y="0" transform="translate(955,2473.3) scale(0.9,1)" font-size="35.5">8</text>
<text x="0" y="0" transform="translate(976.3,2473.3) scale(0.9,1)" font-size="35.5">5</text>
<text x="0" y="0" transform="translate(1824.4,351.6) scale(0.78,1)" font-size="27">E</text>
<path d="M1839.6,351.6 L1843,351.6 L1843,333 L1839.2,333 L1835.3,336.5 L1835.3,339.4 L1839.6,337.3 Z" fill="#000" stroke="none"/>
<text x="0" y="0" transform="translate(1857,351.6) scale(0.9,1)" font-size="27">3</text>
<text x="0" y="0" transform="translate(1874,351.6) scale(0.9,1)" font-size="27">4</text>
<text x="0" y="0" transform="translate(1890.5,351.6) scale(0.9,1)" font-size="27">0</text>
</g>
</g></svg></body></html>
